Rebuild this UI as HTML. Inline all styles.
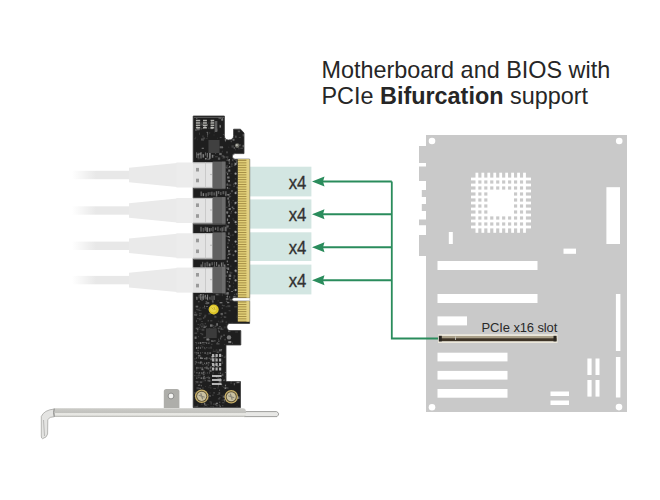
<!DOCTYPE html>
<html><head><meta charset="utf-8"><style>
html,body{margin:0;padding:0;background:#fff;}
body{width:660px;height:500px;overflow:hidden;position:relative;font-family:"Liberation Sans",sans-serif;}
svg{position:absolute;left:0;top:0;}
.t{position:absolute;left:321px;font-size:22px;color:#262626;white-space:nowrap;line-height:26px;}
</style></head><body>
<svg width="660" height="500" viewBox="0 0 660 500" font-family="Liberation Sans">
<defs>
<linearGradient id="barg" x1="0" x2="0" y1="0" y2="1">
<stop offset="0" stop-color="#cbcbc7"/><stop offset="0.5" stop-color="#c2c2be"/><stop offset="0.55" stop-color="#e6e6e2"/><stop offset="0.82" stop-color="#e8e8e4"/><stop offset="0.85" stop-color="#bdbdb9"/><stop offset="1" stop-color="#c4c4c0"/>
</linearGradient>
<linearGradient id="cfade" x1="0" x2="1" y1="0" y2="0">
<stop offset="0" stop-color="#fff"/><stop offset="0.4" stop-color="#e8e8e8"/><stop offset="1" stop-color="#e8e8e8"/>
</linearGradient>
</defs>
<path d="M426,135 L627,135 L627,412 L426,412 L426,256 L419,256 L419,235 L426,235 L426,225.2 L419,225.2 L419,219.6 L426,219.6 L426,211 L421.8,211 L421.8,204 L426,204 L426,197 L421.8,197 L421.8,190 L426,190 L426,181 L419,181 L419,166.4 L426,166.4 L426,163 L419,163 L419,146 L426,146 Z" fill="#c9c9c9"/>
<circle cx="432" cy="141" r="3.3" fill="#fff"/>
<circle cx="619.2" cy="141" r="3.3" fill="#fff"/>
<circle cx="432" cy="407.3" r="3.3" fill="#fff"/>
<circle cx="619" cy="407.1" r="3.3" fill="#fff"/>
<rect x="475.50" y="172.7" width="2.8" height="60.1" fill="#fff"/>
<rect x="481.45" y="172.7" width="2.8" height="60.1" fill="#fff"/>
<rect x="487.40" y="172.7" width="2.8" height="60.1" fill="#fff"/>
<rect x="493.35" y="172.7" width="2.8" height="60.1" fill="#fff"/>
<rect x="499.30" y="172.7" width="2.8" height="60.1" fill="#fff"/>
<rect x="505.25" y="172.7" width="2.8" height="60.1" fill="#fff"/>
<rect x="511.20" y="172.7" width="2.8" height="60.1" fill="#fff"/>
<rect x="517.15" y="172.7" width="2.8" height="60.1" fill="#fff"/>
<rect x="523.10" y="172.7" width="2.8" height="60.1" fill="#fff"/>
<rect x="471" y="177.60" width="60" height="2.8" fill="#fff"/>
<rect x="471" y="183.60" width="60" height="2.8" fill="#fff"/>
<rect x="471" y="189.60" width="60" height="2.8" fill="#fff"/>
<rect x="471" y="195.60" width="60" height="2.8" fill="#fff"/>
<rect x="471" y="201.60" width="60" height="2.8" fill="#fff"/>
<rect x="471" y="207.60" width="60" height="2.8" fill="#fff"/>
<rect x="471" y="213.60" width="60" height="2.8" fill="#fff"/>
<rect x="471" y="219.60" width="60" height="2.8" fill="#fff"/>
<rect x="471" y="225.60" width="60" height="2.8" fill="#fff"/>
<rect x="488" y="190.5" width="26" height="25" fill="#fff"/>
<rect x="448.8" y="232" width="4" height="12" fill="#fff"/>
<rect x="606.4" y="187.2" width="13.6" height="56.8" fill="#fff"/>
<rect x="563.5" y="248.6" width="12.5" height="5.2" fill="#fff"/>
<rect x="437.5" y="261" width="100" height="9" fill="#fff"/>
<rect x="437.5" y="294" width="100" height="9" fill="#fff"/>
<rect x="437.5" y="316.4" width="29.5" height="9" fill="#fff"/>
<rect x="437.5" y="352.7" width="70" height="8.7" fill="#fff"/>
<rect x="437.5" y="370.9" width="70" height="8.7" fill="#fff"/>
<rect x="437.5" y="389" width="70" height="8.7" fill="#fff"/>
<rect x="615.9" y="294" width="4.5" height="57" fill="#fff"/>
<rect x="615.9" y="357" width="4.5" height="40.5" fill="#fff"/>
<rect x="587.4" y="358.5" width="4.2" height="16.5" fill="#fff"/>
<rect x="595.5" y="358.5" width="4" height="16.5" fill="#fff"/>
<rect x="587.4" y="380" width="4.2" height="16.6" fill="#fff"/>
<rect x="595.5" y="380" width="4" height="16.6" fill="#fff"/>
<rect x="550.5" y="391.5" width="18.5" height="4.5" fill="#fff"/>
<rect x="550.5" y="400.5" width="18.5" height="4.5" fill="#fff"/>
<rect x="438" y="334.2" width="119.5" height="8.8" fill="#ece8dc"/>
<rect x="439" y="336" width="117.5" height="2.3" fill="#a99f88"/>
<rect x="439" y="338.2" width="117.5" height="3" fill="#3e3426"/>
<rect x="438.8" y="335.8" width="3" height="5.6" fill="#2a2620"/>
<rect x="553.5" y="335.8" width="3" height="5.6" fill="#2a2620"/>
<rect x="455.2" y="336.5" width="0.8" height="3.5" fill="#d0d0c8"/>
<text x="481.5" y="332" font-size="13" fill="#2a2a2a" font-family="Liberation Sans" textLength="75.8">PCIe x16 slot</text>
<path d="M391.8,181.5 V338.5 H438" fill="none" stroke="#2a8c5c" stroke-width="1.8"/>
<path d="M323,181.6 H391.8" stroke="#2a8c5c" stroke-width="2" fill="none"/>
<path d="M312,181.6 L324.5,176.6 L323,181.6 L324.5,186.6 Z" fill="#2a8c5c"/>
<path d="M323,214.2 H391.8" stroke="#2a8c5c" stroke-width="2" fill="none"/>
<path d="M312,214.2 L324.5,209.2 L323,214.2 L324.5,219.2 Z" fill="#2a8c5c"/>
<path d="M323,247.2 H391.8" stroke="#2a8c5c" stroke-width="2" fill="none"/>
<path d="M312,247.2 L324.5,242.2 L323,247.2 L324.5,252.2 Z" fill="#2a8c5c"/>
<path d="M323,280.3 H391.8" stroke="#2a8c5c" stroke-width="2" fill="none"/>
<path d="M312,280.3 L324.5,275.3 L323,280.3 L324.5,285.3 Z" fill="#2a8c5c"/>
<rect x="250" y="166.7" width="61.4" height="29.7" fill="#d3e6e2"/>
<text x="0" y="0" transform="translate(306.4,188.9) scale(0.93,1)" font-size="18" stroke="#2a2a2a" stroke-width="0.3" text-anchor="end" fill="#333" font-family="Liberation Sans">x4</text>
<rect x="250" y="199.4" width="61.4" height="29.2" fill="#d3e6e2"/>
<text x="0" y="0" transform="translate(306.4,221.3) scale(0.93,1)" font-size="18" stroke="#2a2a2a" stroke-width="0.3" text-anchor="end" fill="#333" font-family="Liberation Sans">x4</text>
<rect x="250" y="232.3" width="61.4" height="28.7" fill="#d3e6e2"/>
<text x="0" y="0" transform="translate(306.4,254.0) scale(0.93,1)" font-size="18" stroke="#2a2a2a" stroke-width="0.3" text-anchor="end" fill="#333" font-family="Liberation Sans">x4</text>
<rect x="250" y="264.6" width="61.4" height="29.8" fill="#d3e6e2"/>
<text x="0" y="0" transform="translate(306.4,286.8) scale(0.93,1)" font-size="18" stroke="#2a2a2a" stroke-width="0.3" text-anchor="end" fill="#333" font-family="Liberation Sans">x4</text>
<path d="M244,411.6 H276.5 Q280.5,413.5 277,416.6 H244 Z" fill="#e8e8e6" stroke="#959593" stroke-width="0.9"/>
<path d="M54.8,408.2 H243 Q246,408.5 246,412 V414 Q246,417 243,417 H54.8 Z" fill="url(#barg)"/>
<path d="M41.3,416.5 Q44,410 54.3,409 V416.7 Q49.5,416.7 47.8,419.5 L47.6,434 Q47,437.5 42.5,438.7 Q41.3,438.5 41.3,436 Z" fill="#e4e4e2" stroke="#9c9c9a" stroke-width="0.7"/>
<path d="M43.5,420 L44.5,436" stroke="#b8b8b6" stroke-width="1"/>
<path d="M54.3,408.4 Q52.8,412.5 54.3,416.8" stroke="#8e8e8c" stroke-width="1" fill="none"/>
<path d="M163.8,408 V391.5 Q163.8,389 166.3,389 H176.9 Q179.4,389 179.4,391.5 V408 Z" fill="#aeaeaa"/>
<circle cx="171" cy="396" r="2.9" fill="#f4f4f2" stroke="#7a7a78" stroke-width="0.8"/>
<defs><clipPath id="pcbclip"><path d="M193.2,116 H224.4 V135.5 Q224.4,140 228.5,140 Q233.6,140 233.6,135.5 V129.2 H240.5 L244,133 V153.6 H235.2 Q232.4,153.6 232.4,156.4 Q232.4,159.2 235.2,159.2 H249.6 V297.6 H234.2 Q232,297.6 232,299.4 Q232,301.2 234.2,301.2 H249.6 V323.4 H228.8 Q224.8,327 228.8,330.6 H240.8 V345 H226 V381.6 H240.5 V407.6 H193.2 Z"/></clipPath></defs>
<path d="M193.2,116 H224.4 V135.5 Q224.4,140 228.5,140 Q233.6,140 233.6,135.5 V129.2 H240.5 L244,133 V153.6 H235.2 Q232.4,153.6 232.4,156.4 Q232.4,159.2 235.2,159.2 H249.6 V297.6 H234.2 Q232,297.6 232,299.4 Q232,301.2 234.2,301.2 H249.6 V323.4 H228.8 Q224.8,327 228.8,330.6 H240.8 V345 H226 V381.6 H240.5 V407.6 H193.2 Z" fill="#1e1e1e" stroke="#3a3a3a" stroke-width="0.8"/>
<defs><filter id="soft" x="-5%" y="-5%" width="110%" height="110%"><feGaussianBlur stdDeviation="0.45"/></filter></defs>
<g clip-path="url(#pcbclip)"><g filter="url(#soft)"><rect x="210.2" y="123.5" width="2.2" height="0.7" fill="rgb(113,113,113)" opacity="0.55"/><rect x="196.9" y="138.8" width="0.7" height="1.4" fill="rgb(66,66,66)" opacity="0.40"/><rect x="215.2" y="152.6" width="0.9" height="1.0" fill="rgb(122,122,122)" opacity="0.87"/><rect x="222.9" y="134.1" width="2.9" height="0.7" fill="rgb(145,145,145)" opacity="0.51"/><rect x="201.2" y="122.1" width="1.3" height="2.2" fill="rgb(78,78,78)" opacity="0.67"/><rect x="225.9" y="133.0" width="1.9" height="0.7" fill="rgb(65,65,65)" opacity="0.46"/><rect x="228.0" y="135.4" width="1.4" height="1.7" fill="rgb(105,105,105)" opacity="0.51"/><rect x="233.7" y="147.1" width="1.2" height="1.7" fill="rgb(112,112,112)" opacity="0.83"/><rect x="230.5" y="129.4" width="3.0" height="0.8" fill="rgb(101,101,101)" opacity="0.77"/><rect x="201.6" y="138.0" width="0.7" height="1.9" fill="rgb(136,136,136)" opacity="0.67"/><rect x="237.8" y="130.5" width="2.3" height="1.7" fill="rgb(117,117,117)" opacity="0.60"/><rect x="236.0" y="157.6" width="1.7" height="1.9" fill="rgb(66,66,66)" opacity="0.74"/><rect x="226.4" y="159.7" width="2.6" height="1.1" fill="rgb(98,98,98)" opacity="0.72"/><rect x="195.1" y="136.9" width="1.0" height="0.8" fill="rgb(65,65,65)" opacity="0.77"/><rect x="200.5" y="127.6" width="1.5" height="2.3" fill="rgb(68,68,68)" opacity="0.60"/><rect x="221.5" y="155.0" width="2.6" height="2.2" fill="rgb(87,87,87)" opacity="0.58"/><rect x="211.9" y="155.0" width="2.9" height="0.9" fill="rgb(77,77,77)" opacity="0.48"/><rect x="205.7" y="137.9" width="2.0" height="1.1" fill="rgb(60,60,60)" opacity="0.58"/><rect x="212.5" y="141.4" width="2.9" height="1.9" fill="rgb(111,111,111)" opacity="0.69"/><rect x="227.8" y="119.3" width="2.8" height="2.1" fill="rgb(147,147,147)" opacity="0.79"/><rect x="213.6" y="134.2" width="0.8" height="1.8" fill="rgb(66,66,66)" opacity="0.39"/><rect x="204.4" y="124.0" width="1.4" height="0.7" fill="rgb(60,60,60)" opacity="0.43"/><rect x="199.1" y="132.6" width="0.7" height="2.3" fill="rgb(121,121,121)" opacity="0.43"/><rect x="206.6" y="131.9" width="1.5" height="0.8" fill="rgb(144,144,144)" opacity="0.90"/><rect x="217.3" y="137.8" width="0.8" height="0.8" fill="rgb(94,94,94)" opacity="0.50"/><rect x="235.4" y="123.9" width="0.7" height="2.4" fill="rgb(112,112,112)" opacity="0.43"/><rect x="221.2" y="118.2" width="1.9" height="2.5" fill="rgb(146,146,146)" opacity="0.73"/><rect x="207.1" y="132.8" width="1.0" height="2.1" fill="rgb(113,113,113)" opacity="0.78"/><rect x="210.5" y="126.6" width="2.5" height="2.5" fill="rgb(145,145,145)" opacity="0.79"/><rect x="234.9" y="148.8" width="1.1" height="1.6" fill="rgb(95,95,95)" opacity="0.37"/><rect x="195.4" y="129.0" width="1.2" height="1.9" fill="rgb(155,155,155)" opacity="0.60"/><rect x="240.9" y="159.5" width="2.9" height="1.3" fill="rgb(82,82,82)" opacity="0.47"/><rect x="203.8" y="125.8" width="2.1" height="2.3" fill="rgb(144,144,144)" opacity="0.61"/><rect x="226.6" y="151.4" width="0.8" height="1.9" fill="rgb(150,150,150)" opacity="0.78"/><rect x="231.5" y="137.6" width="1.0" height="2.1" fill="rgb(93,93,93)" opacity="0.79"/><rect x="242.6" y="134.0" width="1.6" height="2.4" fill="rgb(132,132,132)" opacity="0.44"/><rect x="200.4" y="123.5" width="2.8" height="2.1" fill="rgb(74,74,74)" opacity="0.80"/><rect x="243.0" y="145.3" width="1.4" height="1.6" fill="rgb(73,73,73)" opacity="0.36"/><rect x="242.5" y="144.9" width="1.9" height="2.4" fill="rgb(103,103,103)" opacity="0.83"/><rect x="235.3" y="126.1" width="1.2" height="1.2" fill="rgb(84,84,84)" opacity="0.67"/><rect x="207.0" y="135.0" width="0.9" height="2.3" fill="rgb(95,95,95)" opacity="0.60"/><rect x="223.2" y="155.9" width="1.6" height="2.3" fill="rgb(110,110,110)" opacity="0.64"/><rect x="220.2" y="117.8" width="1.7" height="0.9" fill="rgb(60,60,60)" opacity="0.79"/><rect x="202.6" y="137.4" width="2.3" height="1.7" fill="rgb(92,92,92)" opacity="0.64"/><rect x="221.8" y="150.7" width="0.9" height="1.7" fill="rgb(84,84,84)" opacity="0.50"/><rect x="232.6" y="138.8" width="1.9" height="2.0" fill="rgb(151,151,151)" opacity="0.59"/><rect x="224.6" y="138.7" width="1.8" height="1.9" fill="rgb(105,105,105)" opacity="0.64"/><rect x="217.9" y="157.5" width="2.3" height="2.3" fill="rgb(154,154,154)" opacity="0.49"/><rect x="222.0" y="157.6" width="2.6" height="0.9" fill="rgb(72,72,72)" opacity="0.59"/><rect x="197.6" y="127.3" width="0.8" height="1.9" fill="rgb(138,138,138)" opacity="0.84"/><rect x="201.7" y="147.8" width="2.2" height="0.9" fill="rgb(148,148,148)" opacity="0.88"/><rect x="205.0" y="158.0" width="1.6" height="1.5" fill="rgb(158,158,158)" opacity="0.81"/><rect x="202.1" y="135.6" width="1.8" height="1.2" fill="rgb(79,79,79)" opacity="0.53"/><rect x="230.1" y="117.8" width="1.9" height="1.4" fill="rgb(61,61,61)" opacity="0.53"/><rect x="225.2" y="139.0" width="0.8" height="2.5" fill="rgb(138,138,138)" opacity="0.88"/><rect x="199.2" y="128.4" width="0.7" height="2.1" fill="rgb(87,87,87)" opacity="0.42"/><rect x="215.1" y="156.2" width="2.6" height="1.1" fill="rgb(74,74,74)" opacity="0.86"/><rect x="222.5" y="147.1" width="0.8" height="0.7" fill="rgb(128,128,128)" opacity="0.58"/><rect x="197.6" y="157.3" width="2.1" height="2.1" fill="rgb(68,68,68)" opacity="0.82"/><rect x="197.3" y="154.1" width="1.7" height="1.2" fill="rgb(115,115,115)" opacity="0.86"/><rect x="207.4" y="122.6" width="1.9" height="1.1" fill="rgb(70,70,70)" opacity="0.44"/><rect x="196.5" y="125.7" width="1.3" height="1.2" fill="rgb(135,135,135)" opacity="0.51"/><rect x="219.0" y="124.6" width="1.4" height="0.6" fill="rgb(85,85,85)" opacity="0.36"/><rect x="230.7" y="140.7" width="1.1" height="1.5" fill="rgb(153,153,153)" opacity="0.41"/><rect x="234.9" y="135.6" width="1.8" height="2.2" fill="rgb(99,99,99)" opacity="0.63"/><rect x="228.4" y="159.2" width="1.4" height="2.2" fill="rgb(130,130,130)" opacity="0.70"/><rect x="214.2" y="131.9" width="0.7" height="0.8" fill="rgb(67,67,67)" opacity="0.76"/><rect x="206.8" y="124.0" width="0.8" height="2.2" fill="rgb(147,147,147)" opacity="0.72"/><rect x="208.1" y="127.4" width="1.3" height="1.5" fill="rgb(75,75,75)" opacity="0.60"/><rect x="207.2" y="158.4" width="2.9" height="1.6" fill="rgb(84,84,84)" opacity="0.88"/><rect x="209.5" y="132.3" width="0.6" height="1.3" fill="rgb(107,107,107)" opacity="0.63"/><rect x="204.0" y="138.7" width="0.6" height="1.1" fill="rgb(68,68,68)" opacity="0.57"/><rect x="196.1" y="118.0" width="1.3" height="1.0" fill="rgb(118,118,118)" opacity="0.64"/><rect x="231.5" y="145.3" width="2.3" height="2.3" fill="rgb(98,98,98)" opacity="0.53"/><rect x="243.2" y="123.4" width="2.3" height="1.8" fill="rgb(64,64,64)" opacity="0.81"/><rect x="238.6" y="144.0" width="2.4" height="2.1" fill="rgb(73,73,73)" opacity="0.64"/><rect x="219.2" y="152.9" width="2.5" height="2.2" fill="rgb(118,118,118)" opacity="0.84"/><rect x="228.1" y="146.8" width="1.2" height="0.7" fill="rgb(73,73,73)" opacity="0.55"/><rect x="199.2" y="152.9" width="1.9" height="1.8" fill="rgb(122,122,122)" opacity="0.72"/><rect x="218.5" y="117.1" width="2.5" height="2.0" fill="rgb(110,110,110)" opacity="0.64"/><rect x="227.0" y="119.8" width="2.4" height="1.1" fill="rgb(67,67,67)" opacity="0.50"/><rect x="230.5" y="125.8" width="2.4" height="2.5" fill="rgb(109,109,109)" opacity="0.56"/><rect x="218.0" y="146.4" width="2.4" height="1.8" fill="rgb(124,124,124)" opacity="0.39"/><rect x="201.4" y="127.9" width="2.4" height="1.2" fill="rgb(116,116,116)" opacity="0.36"/><rect x="197.0" y="128.6" width="2.2" height="1.9" fill="rgb(127,127,127)" opacity="0.51"/><rect x="219.8" y="137.0" width="1.7" height="0.8" fill="rgb(149,149,149)" opacity="0.46"/><rect x="242.9" y="157.3" width="0.6" height="1.5" fill="rgb(141,141,141)" opacity="0.88"/><rect x="216.5" y="128.6" width="1.1" height="2.4" fill="rgb(81,81,81)" opacity="0.67"/><rect x="201.1" y="139.5" width="2.9" height="0.9" fill="rgb(142,142,142)" opacity="0.63"/><rect x="238.3" y="147.2" width="1.2" height="2.3" fill="rgb(108,108,108)" opacity="0.36"/><rect x="194.2" y="138.1" width="1.7" height="1.2" fill="rgb(74,74,74)" opacity="0.54"/><rect x="209.8" y="153.1" width="0.6" height="2.0" fill="rgb(143,143,143)" opacity="0.42"/><rect x="240.3" y="147.7" width="2.8" height="1.2" fill="rgb(97,97,97)" opacity="0.57"/><rect x="243.9" y="142.3" width="1.5" height="1.4" fill="rgb(87,87,87)" opacity="0.38"/><rect x="199.1" y="152.9" width="1.3" height="2.4" fill="rgb(84,84,84)" opacity="0.50"/><rect x="219.5" y="125.2" width="1.5" height="2.4" fill="rgb(148,148,148)" opacity="0.80"/><rect x="225.5" y="156.3" width="2.9" height="1.6" fill="rgb(131,131,131)" opacity="0.38"/><rect x="230.6" y="136.4" width="2.4" height="1.8" fill="rgb(88,88,88)" opacity="0.38"/><rect x="240.3" y="122.5" width="1.7" height="1.3" fill="rgb(89,89,89)" opacity="0.76"/><rect x="242.8" y="128.2" width="2.2" height="1.2" fill="rgb(115,115,115)" opacity="0.57"/><rect x="202.4" y="124.0" width="1.1" height="2.3" fill="rgb(109,109,109)" opacity="0.47"/><rect x="239.3" y="159.8" width="1.7" height="0.9" fill="rgb(79,79,79)" opacity="0.40"/><rect x="211.1" y="120.9" width="1.2" height="1.1" fill="rgb(116,116,116)" opacity="0.84"/><rect x="231.5" y="134.7" width="1.6" height="1.6" fill="rgb(97,97,97)" opacity="0.54"/><rect x="197.1" y="128.9" width="2.9" height="0.8" fill="rgb(110,110,110)" opacity="0.70"/><rect x="237.1" y="126.3" width="1.3" height="1.1" fill="rgb(99,99,99)" opacity="0.60"/><rect x="241.7" y="153.5" width="2.7" height="0.6" fill="rgb(63,63,63)" opacity="0.74"/><rect x="238.8" y="137.4" width="2.0" height="0.6" fill="rgb(99,99,99)" opacity="0.86"/><rect x="235.3" y="153.8" width="2.9" height="1.1" fill="rgb(70,70,70)" opacity="0.43"/><rect x="220.1" y="146.3" width="2.9" height="2.0" fill="rgb(124,124,124)" opacity="0.77"/><rect x="230.5" y="234.7" width="0.7" height="1.5" fill="rgb(80,80,80)" opacity="0.86"/><rect x="232.7" y="200.2" width="0.8" height="0.9" fill="rgb(117,117,117)" opacity="0.73"/><rect x="226.3" y="167.8" width="1.4" height="1.3" fill="rgb(94,94,94)" opacity="0.47"/><rect x="232.2" y="159.5" width="1.1" height="1.2" fill="rgb(146,146,146)" opacity="0.70"/><rect x="235.6" y="224.1" width="1.0" height="0.9" fill="rgb(146,146,146)" opacity="0.74"/><rect x="228.7" y="161.0" width="1.4" height="1.4" fill="rgb(97,97,97)" opacity="0.49"/><rect x="233.0" y="286.6" width="1.0" height="0.6" fill="rgb(90,90,90)" opacity="0.58"/><rect x="233.2" y="185.5" width="1.9" height="1.5" fill="rgb(105,105,105)" opacity="0.46"/><rect x="236.6" y="201.3" width="1.9" height="0.9" fill="rgb(79,79,79)" opacity="0.77"/><rect x="228.5" y="290.3" width="1.4" height="0.8" fill="rgb(80,80,80)" opacity="0.58"/><rect x="233.0" y="289.9" width="0.8" height="1.1" fill="rgb(79,79,79)" opacity="0.89"/><rect x="226.7" y="165.2" width="0.7" height="1.1" fill="rgb(140,140,140)" opacity="0.84"/><rect x="233.8" y="296.7" width="2.1" height="1.0" fill="rgb(76,76,76)" opacity="0.86"/><rect x="234.0" y="162.4" width="1.7" height="1.1" fill="rgb(93,93,93)" opacity="0.53"/><rect x="227.0" y="158.4" width="1.0" height="1.0" fill="rgb(145,145,145)" opacity="0.42"/><rect x="236.6" y="186.8" width="1.2" height="1.6" fill="rgb(133,133,133)" opacity="0.59"/><rect x="225.6" y="223.8" width="1.2" height="1.7" fill="rgb(77,77,77)" opacity="0.55"/><rect x="235.8" y="162.2" width="1.3" height="1.6" fill="rgb(129,129,129)" opacity="0.37"/><rect x="225.4" y="166.7" width="2.1" height="0.9" fill="rgb(127,127,127)" opacity="0.84"/><rect x="229.1" y="195.9" width="2.1" height="1.3" fill="rgb(83,83,83)" opacity="0.74"/><rect x="228.8" y="196.3" width="0.6" height="1.5" fill="rgb(142,142,142)" opacity="0.70"/><rect x="236.3" y="161.4" width="1.0" height="1.2" fill="rgb(146,146,146)" opacity="0.87"/><rect x="229.6" y="192.9" width="1.3" height="1.2" fill="rgb(143,143,143)" opacity="0.45"/><rect x="234.6" y="260.6" width="1.9" height="1.5" fill="rgb(114,114,114)" opacity="0.53"/><rect x="228.8" y="208.3" width="1.9" height="0.7" fill="rgb(77,77,77)" opacity="0.76"/><rect x="228.0" y="167.0" width="0.7" height="1.3" fill="rgb(89,89,89)" opacity="0.89"/><rect x="235.6" y="295.3" width="1.0" height="0.7" fill="rgb(68,68,68)" opacity="0.62"/><rect x="233.5" y="220.1" width="1.0" height="1.1" fill="rgb(115,115,115)" opacity="0.72"/><rect x="234.0" y="275.7" width="1.7" height="0.7" fill="rgb(135,135,135)" opacity="0.51"/><rect x="231.8" y="209.8" width="1.8" height="0.8" fill="rgb(82,82,82)" opacity="0.48"/><rect x="226.8" y="280.9" width="1.5" height="1.0" fill="rgb(95,95,95)" opacity="0.90"/><rect x="231.1" y="190.2" width="1.9" height="1.4" fill="rgb(149,149,149)" opacity="0.41"/><rect x="230.7" y="271.9" width="1.9" height="1.7" fill="rgb(63,63,63)" opacity="0.51"/><rect x="226.4" y="184.4" width="2.2" height="1.3" fill="rgb(143,143,143)" opacity="0.55"/><rect x="235.4" y="220.4" width="1.0" height="1.5" fill="rgb(145,145,145)" opacity="0.41"/><rect x="232.2" y="244.2" width="0.9" height="1.0" fill="rgb(72,72,72)" opacity="0.46"/><rect x="228.1" y="241.3" width="1.6" height="0.8" fill="rgb(61,61,61)" opacity="0.53"/><rect x="233.1" y="183.7" width="1.1" height="0.8" fill="rgb(131,131,131)" opacity="0.65"/><rect x="225.8" y="172.1" width="1.2" height="1.3" fill="rgb(117,117,117)" opacity="0.40"/><rect x="227.0" y="254.7" width="1.3" height="0.9" fill="rgb(87,87,87)" opacity="0.87"/><rect x="228.7" y="236.7" width="1.2" height="1.1" fill="rgb(137,137,137)" opacity="0.90"/><rect x="229.4" y="185.4" width="1.8" height="0.8" fill="rgb(60,60,60)" opacity="0.85"/><rect x="230.1" y="272.0" width="1.2" height="1.7" fill="rgb(101,101,101)" opacity="0.44"/><rect x="225.2" y="234.7" width="1.6" height="1.7" fill="rgb(68,68,68)" opacity="0.69"/><rect x="229.5" y="228.1" width="0.8" height="0.9" fill="rgb(106,106,106)" opacity="0.86"/><rect x="226.3" y="226.2" width="1.9" height="1.8" fill="rgb(77,77,77)" opacity="0.42"/><rect x="236.3" y="293.6" width="1.4" height="0.7" fill="rgb(143,143,143)" opacity="0.56"/><rect x="235.9" y="244.2" width="1.9" height="0.8" fill="rgb(130,130,130)" opacity="0.47"/><rect x="229.9" y="275.6" width="1.9" height="0.8" fill="rgb(79,79,79)" opacity="0.57"/><rect x="231.2" y="211.3" width="0.8" height="0.9" fill="rgb(125,125,125)" opacity="0.84"/><rect x="225.5" y="236.2" width="1.8" height="0.6" fill="rgb(135,135,135)" opacity="0.41"/><rect x="232.2" y="234.5" width="1.6" height="1.0" fill="rgb(97,97,97)" opacity="0.67"/><rect x="230.1" y="249.6" width="1.3" height="1.1" fill="rgb(62,62,62)" opacity="0.69"/><rect x="230.9" y="190.7" width="1.8" height="1.5" fill="rgb(101,101,101)" opacity="0.45"/><rect x="230.7" y="172.9" width="0.8" height="1.1" fill="rgb(68,68,68)" opacity="0.59"/><rect x="231.1" y="163.7" width="1.6" height="0.7" fill="rgb(126,126,126)" opacity="0.78"/><rect x="231.1" y="165.5" width="1.4" height="1.1" fill="rgb(145,145,145)" opacity="0.42"/><rect x="235.3" y="296.5" width="1.8" height="1.6" fill="rgb(77,77,77)" opacity="0.89"/><rect x="230.9" y="291.0" width="2.1" height="0.8" fill="rgb(130,130,130)" opacity="0.86"/><rect x="225.8" y="206.8" width="1.8" height="0.8" fill="rgb(140,140,140)" opacity="0.50"/><rect x="234.8" y="178.0" width="1.4" height="1.7" fill="rgb(78,78,78)" opacity="0.49"/><rect x="231.1" y="202.4" width="0.7" height="0.8" fill="rgb(74,74,74)" opacity="0.87"/><rect x="233.2" y="282.5" width="0.9" height="1.5" fill="rgb(70,70,70)" opacity="0.64"/><rect x="232.6" y="208.0" width="2.0" height="1.3" fill="rgb(112,112,112)" opacity="0.84"/><rect x="226.3" y="296.0" width="1.6" height="1.1" fill="rgb(131,131,131)" opacity="0.50"/><rect x="236.9" y="238.3" width="1.2" height="1.5" fill="rgb(99,99,99)" opacity="0.45"/><rect x="233.9" y="164.7" width="1.9" height="0.9" fill="rgb(117,117,117)" opacity="0.89"/><rect x="232.0" y="250.3" width="1.1" height="0.6" fill="rgb(63,63,63)" opacity="0.43"/><rect x="232.4" y="218.1" width="1.4" height="1.7" fill="rgb(71,71,71)" opacity="0.47"/><rect x="232.8" y="161.1" width="0.6" height="1.0" fill="rgb(69,69,69)" opacity="0.55"/><rect x="227.7" y="239.1" width="1.5" height="0.8" fill="rgb(116,116,116)" opacity="0.61"/><rect x="226.6" y="288.2" width="1.0" height="0.8" fill="rgb(68,68,68)" opacity="0.70"/><rect x="235.5" y="266.7" width="1.2" height="0.9" fill="rgb(61,61,61)" opacity="0.70"/><rect x="231.7" y="206.7" width="1.6" height="1.1" fill="rgb(144,144,144)" opacity="0.75"/><rect x="228.0" y="283.6" width="0.7" height="1.2" fill="rgb(96,96,96)" opacity="0.48"/><rect x="225.7" y="266.3" width="0.6" height="1.3" fill="rgb(144,144,144)" opacity="0.43"/><rect x="227.4" y="242.5" width="1.4" height="1.4" fill="rgb(133,133,133)" opacity="0.45"/><rect x="228.7" y="199.7" width="0.7" height="1.7" fill="rgb(130,130,130)" opacity="0.74"/><rect x="225.1" y="275.4" width="1.8" height="1.2" fill="rgb(126,126,126)" opacity="0.60"/><rect x="227.7" y="172.6" width="1.0" height="0.6" fill="rgb(90,90,90)" opacity="0.76"/><rect x="233.3" y="275.5" width="1.7" height="0.9" fill="rgb(109,109,109)" opacity="0.59"/><rect x="234.5" y="230.7" width="1.0" height="1.4" fill="rgb(146,146,146)" opacity="0.47"/><rect x="235.6" y="160.1" width="1.0" height="0.9" fill="rgb(126,126,126)" opacity="0.87"/><rect x="234.0" y="203.4" width="2.0" height="1.0" fill="rgb(81,81,81)" opacity="0.85"/><rect x="232.6" y="254.3" width="1.7" height="1.8" fill="rgb(102,102,102)" opacity="0.81"/><rect x="233.4" y="277.2" width="1.3" height="1.5" fill="rgb(111,111,111)" opacity="0.52"/><rect x="227.5" y="244.5" width="0.7" height="1.7" fill="rgb(73,73,73)" opacity="0.36"/><rect x="226.3" y="287.1" width="1.2" height="0.8" fill="rgb(62,62,62)" opacity="0.37"/><rect x="233.3" y="246.1" width="1.7" height="1.5" fill="rgb(65,65,65)" opacity="0.67"/><rect x="229.4" y="271.6" width="1.9" height="1.7" fill="rgb(65,65,65)" opacity="0.83"/><rect x="236.0" y="289.3" width="0.8" height="0.8" fill="rgb(70,70,70)" opacity="0.37"/><rect x="235.2" y="270.9" width="1.6" height="1.6" fill="rgb(116,116,116)" opacity="0.51"/><rect x="226.2" y="171.6" width="1.8" height="0.8" fill="rgb(88,88,88)" opacity="0.58"/><rect x="225.3" y="193.7" width="1.1" height="1.5" fill="rgb(93,93,93)" opacity="0.53"/><rect x="236.6" y="228.0" width="2.0" height="1.3" fill="rgb(62,62,62)" opacity="0.58"/><rect x="230.2" y="265.5" width="1.2" height="1.4" fill="rgb(108,108,108)" opacity="0.47"/><rect x="235.3" y="170.6" width="1.9" height="0.8" fill="rgb(60,60,60)" opacity="0.46"/><rect x="234.1" y="293.9" width="0.6" height="1.2" fill="rgb(104,104,104)" opacity="0.79"/><rect x="227.2" y="226.7" width="1.2" height="1.6" fill="rgb(83,83,83)" opacity="0.87"/><rect x="228.4" y="187.8" width="1.7" height="1.2" fill="rgb(69,69,69)" opacity="0.70"/><rect x="226.0" y="267.5" width="1.7" height="1.5" fill="rgb(116,116,116)" opacity="0.55"/><rect x="229.8" y="212.8" width="2.0" height="0.7" fill="rgb(139,139,139)" opacity="0.36"/><rect x="227.5" y="194.6" width="2.0" height="1.2" fill="rgb(94,94,94)" opacity="0.84"/><rect x="227.8" y="222.1" width="1.5" height="1.5" fill="rgb(127,127,127)" opacity="0.71"/><rect x="229.2" y="203.4" width="0.8" height="1.6" fill="rgb(119,119,119)" opacity="0.76"/><rect x="227.0" y="219.0" width="1.8" height="1.3" fill="rgb(71,71,71)" opacity="0.60"/><rect x="235.6" y="191.1" width="0.9" height="1.0" fill="rgb(123,123,123)" opacity="0.81"/><rect x="226.9" y="179.7" width="1.0" height="1.0" fill="rgb(106,106,106)" opacity="0.44"/><rect x="228.9" y="184.3" width="2.2" height="1.5" fill="rgb(69,69,69)" opacity="0.88"/><rect x="226.2" y="211.4" width="2.2" height="1.6" fill="rgb(125,125,125)" opacity="0.59"/><rect x="202.6" y="365.4" width="0.9" height="1.0" fill="rgb(98,98,98)" opacity="0.37"/><rect x="211.6" y="383.0" width="2.3" height="1.6" fill="rgb(123,123,123)" opacity="0.60"/><rect x="200.2" y="361.4" width="1.6" height="2.0" fill="rgb(150,150,150)" opacity="0.59"/><rect x="219.3" y="378.1" width="1.6" height="1.0" fill="rgb(132,132,132)" opacity="0.83"/><rect x="228.1" y="372.5" width="2.6" height="1.9" fill="rgb(124,124,124)" opacity="0.60"/><rect x="207.8" y="364.3" width="0.8" height="1.4" fill="rgb(138,138,138)" opacity="0.74"/><rect x="221.7" y="320.8" width="1.6" height="1.5" fill="rgb(122,122,122)" opacity="0.58"/><rect x="223.7" y="399.0" width="1.0" height="1.8" fill="rgb(137,137,137)" opacity="0.56"/><rect x="215.6" y="404.1" width="0.7" height="1.6" fill="rgb(76,76,76)" opacity="0.78"/><rect x="235.4" y="351.7" width="0.8" height="1.7" fill="rgb(114,114,114)" opacity="0.74"/><rect x="216.5" y="365.5" width="2.6" height="1.6" fill="rgb(101,101,101)" opacity="0.87"/><rect x="203.2" y="370.7" width="1.5" height="2.0" fill="rgb(72,72,72)" opacity="0.89"/><rect x="209.6" y="298.5" width="1.3" height="1.4" fill="rgb(61,61,61)" opacity="0.58"/><rect x="212.5" y="372.3" width="1.4" height="1.1" fill="rgb(82,82,82)" opacity="0.76"/><rect x="235.4" y="352.6" width="1.1" height="2.1" fill="rgb(99,99,99)" opacity="0.47"/><rect x="199.7" y="381.3" width="2.5" height="1.8" fill="rgb(106,106,106)" opacity="0.66"/><rect x="203.9" y="402.8" width="1.4" height="1.8" fill="rgb(141,141,141)" opacity="0.80"/><rect x="214.6" y="325.8" width="1.9" height="0.8" fill="rgb(143,143,143)" opacity="0.55"/><rect x="231.4" y="322.8" width="1.5" height="1.1" fill="rgb(102,102,102)" opacity="0.45"/><rect x="194.1" y="375.0" width="1.3" height="1.1" fill="rgb(90,90,90)" opacity="0.61"/><rect x="212.9" y="365.3" width="2.2" height="1.3" fill="rgb(152,152,152)" opacity="0.82"/><rect x="196.5" y="387.2" width="2.8" height="2.1" fill="rgb(74,74,74)" opacity="0.81"/><rect x="221.9" y="293.7" width="0.6" height="2.4" fill="rgb(125,125,125)" opacity="0.49"/><rect x="198.5" y="308.4" width="1.2" height="2.1" fill="rgb(94,94,94)" opacity="0.43"/><rect x="233.8" y="383.0" width="1.0" height="2.3" fill="rgb(120,120,120)" opacity="0.78"/><rect x="223.4" y="394.8" width="2.5" height="2.2" fill="rgb(79,79,79)" opacity="0.73"/><rect x="217.4" y="377.3" width="1.7" height="2.3" fill="rgb(115,115,115)" opacity="0.50"/><rect x="204.3" y="308.0" width="1.8" height="0.7" fill="rgb(106,106,106)" opacity="0.43"/><rect x="215.6" y="349.3" width="1.9" height="2.2" fill="rgb(60,60,60)" opacity="0.81"/><rect x="214.6" y="356.7" width="2.2" height="2.2" fill="rgb(97,97,97)" opacity="0.58"/><rect x="236.3" y="300.7" width="2.1" height="1.8" fill="rgb(62,62,62)" opacity="0.69"/><rect x="224.0" y="399.1" width="1.4" height="2.5" fill="rgb(111,111,111)" opacity="0.62"/><rect x="233.5" y="295.9" width="2.3" height="1.8" fill="rgb(93,93,93)" opacity="0.82"/><rect x="210.1" y="346.6" width="1.9" height="2.1" fill="rgb(81,81,81)" opacity="0.59"/><rect x="212.6" y="355.7" width="2.6" height="1.2" fill="rgb(142,142,142)" opacity="0.57"/><rect x="216.2" y="323.2" width="1.8" height="2.5" fill="rgb(125,125,125)" opacity="0.79"/><rect x="208.6" y="328.5" width="1.3" height="1.7" fill="rgb(123,123,123)" opacity="0.78"/><rect x="195.8" y="375.1" width="2.7" height="1.6" fill="rgb(64,64,64)" opacity="0.52"/><rect x="194.3" y="313.8" width="2.8" height="1.8" fill="rgb(125,125,125)" opacity="0.78"/><rect x="234.0" y="362.4" width="2.1" height="1.8" fill="rgb(129,129,129)" opacity="0.68"/><rect x="224.0" y="316.4" width="2.2" height="1.5" fill="rgb(136,136,136)" opacity="0.41"/><rect x="202.0" y="296.3" width="2.5" height="2.3" fill="rgb(125,125,125)" opacity="0.55"/><rect x="230.2" y="382.5" width="1.9" height="1.1" fill="rgb(90,90,90)" opacity="0.58"/><rect x="208.0" y="341.5" width="2.1" height="2.4" fill="rgb(65,65,65)" opacity="0.66"/><rect x="195.7" y="305.7" width="2.5" height="1.7" fill="rgb(151,151,151)" opacity="0.60"/><rect x="194.6" y="336.5" width="2.0" height="2.4" fill="rgb(158,158,158)" opacity="0.61"/><rect x="212.1" y="303.7" width="2.1" height="1.0" fill="rgb(75,75,75)" opacity="0.36"/><rect x="194.2" y="370.6" width="0.9" height="2.4" fill="rgb(68,68,68)" opacity="0.83"/><rect x="199.7" y="294.0" width="2.3" height="1.1" fill="rgb(133,133,133)" opacity="0.45"/><rect x="196.2" y="381.0" width="2.3" height="2.2" fill="rgb(132,132,132)" opacity="0.40"/><rect x="221.7" y="373.6" width="1.7" height="2.4" fill="rgb(85,85,85)" opacity="0.88"/><rect x="225.6" y="293.3" width="0.6" height="1.8" fill="rgb(141,141,141)" opacity="0.39"/><rect x="207.7" y="375.9" width="1.0" height="2.2" fill="rgb(108,108,108)" opacity="0.38"/><rect x="210.2" y="358.1" width="1.7" height="1.9" fill="rgb(74,74,74)" opacity="0.79"/><rect x="210.0" y="366.2" width="2.1" height="1.4" fill="rgb(98,98,98)" opacity="0.78"/><rect x="235.6" y="382.2" width="2.0" height="1.2" fill="rgb(66,66,66)" opacity="0.89"/><rect x="224.9" y="387.2" width="1.4" height="1.8" fill="rgb(157,157,157)" opacity="0.81"/><rect x="220.5" y="327.5" width="1.6" height="2.3" fill="rgb(97,97,97)" opacity="0.73"/><rect x="220.5" y="395.1" width="2.5" height="1.1" fill="rgb(60,60,60)" opacity="0.49"/><rect x="212.6" y="359.5" width="2.6" height="2.3" fill="rgb(64,64,64)" opacity="0.81"/><rect x="229.7" y="391.7" width="2.0" height="1.1" fill="rgb(145,145,145)" opacity="0.79"/><rect x="224.1" y="397.1" width="1.4" height="0.8" fill="rgb(115,115,115)" opacity="0.79"/><rect x="202.8" y="378.3" width="2.8" height="1.0" fill="rgb(120,120,120)" opacity="0.72"/><rect x="214.5" y="315.8" width="1.2" height="2.0" fill="rgb(139,139,139)" opacity="0.60"/><rect x="197.9" y="384.8" width="2.5" height="1.0" fill="rgb(117,117,117)" opacity="0.84"/><rect x="232.9" y="352.0" width="1.7" height="1.7" fill="rgb(78,78,78)" opacity="0.46"/><rect x="202.0" y="372.6" width="1.5" height="1.7" fill="rgb(100,100,100)" opacity="0.63"/><rect x="200.6" y="297.1" width="3.0" height="1.3" fill="rgb(70,70,70)" opacity="0.70"/><rect x="228.6" y="310.0" width="2.0" height="1.3" fill="rgb(111,111,111)" opacity="0.36"/><rect x="195.5" y="405.9" width="2.7" height="1.5" fill="rgb(116,116,116)" opacity="0.49"/><rect x="228.3" y="341.0" width="2.9" height="2.1" fill="rgb(141,141,141)" opacity="0.88"/><rect x="205.2" y="296.4" width="1.1" height="0.9" fill="rgb(68,68,68)" opacity="0.38"/><rect x="218.5" y="392.1" width="1.7" height="2.4" fill="rgb(150,150,150)" opacity="0.39"/><rect x="220.3" y="337.7" width="0.9" height="2.4" fill="rgb(85,85,85)" opacity="0.66"/><rect x="222.2" y="402.0" width="2.2" height="1.3" fill="rgb(104,104,104)" opacity="0.44"/><rect x="236.5" y="406.0" width="1.1" height="0.7" fill="rgb(85,85,85)" opacity="0.54"/><rect x="233.7" y="396.0" width="2.6" height="0.7" fill="rgb(138,138,138)" opacity="0.74"/><rect x="222.5" y="405.3" width="0.7" height="0.9" fill="rgb(135,135,135)" opacity="0.87"/><rect x="223.8" y="326.4" width="2.0" height="2.0" fill="rgb(70,70,70)" opacity="0.53"/><rect x="205.3" y="306.3" width="1.8" height="0.9" fill="rgb(83,83,83)" opacity="0.43"/><rect x="223.8" y="293.5" width="2.3" height="1.0" fill="rgb(63,63,63)" opacity="0.86"/><rect x="203.7" y="399.4" width="2.7" height="2.3" fill="rgb(73,73,73)" opacity="0.60"/><rect x="198.3" y="398.8" width="2.6" height="1.8" fill="rgb(105,105,105)" opacity="0.54"/><rect x="230.2" y="346.9" width="2.1" height="0.9" fill="rgb(82,82,82)" opacity="0.38"/><rect x="225.4" y="355.6" width="0.9" height="2.3" fill="rgb(86,86,86)" opacity="0.58"/><rect x="200.9" y="323.2" width="2.6" height="1.2" fill="rgb(76,76,76)" opacity="0.62"/><rect x="208.0" y="395.9" width="0.9" height="2.5" fill="rgb(65,65,65)" opacity="0.84"/><rect x="223.4" y="316.3" width="1.7" height="1.1" fill="rgb(85,85,85)" opacity="0.46"/><rect x="210.0" y="406.0" width="3.0" height="2.4" fill="rgb(69,69,69)" opacity="0.51"/><rect x="233.4" y="298.6" width="2.3" height="1.2" fill="rgb(157,157,157)" opacity="0.36"/><rect x="229.5" y="331.2" width="0.9" height="0.6" fill="rgb(143,143,143)" opacity="0.64"/><rect x="202.2" y="342.1" width="2.8" height="1.0" fill="rgb(117,117,117)" opacity="0.43"/><rect x="201.9" y="380.6" width="2.3" height="1.0" fill="rgb(67,67,67)" opacity="0.40"/><rect x="220.8" y="349.0" width="1.3" height="1.0" fill="rgb(121,121,121)" opacity="0.74"/><rect x="229.7" y="359.0" width="1.1" height="0.7" fill="rgb(133,133,133)" opacity="0.57"/><rect x="225.8" y="298.4" width="2.5" height="1.2" fill="rgb(144,144,144)" opacity="0.83"/><rect x="215.7" y="293.8" width="2.8" height="1.5" fill="rgb(147,147,147)" opacity="0.50"/><rect x="202.2" y="387.6" width="1.5" height="0.9" fill="rgb(97,97,97)" opacity="0.68"/><rect x="194.2" y="351.8" width="1.7" height="1.6" fill="rgb(72,72,72)" opacity="0.74"/><rect x="229.9" y="391.5" width="1.4" height="2.0" fill="rgb(98,98,98)" opacity="0.76"/><rect x="196.7" y="392.4" width="2.9" height="1.5" fill="rgb(111,111,111)" opacity="0.64"/><rect x="217.6" y="294.4" width="2.9" height="1.0" fill="rgb(78,78,78)" opacity="0.41"/><rect x="205.0" y="386.0" width="0.7" height="0.8" fill="rgb(129,129,129)" opacity="0.46"/><rect x="194.8" y="360.9" width="2.0" height="1.6" fill="rgb(130,130,130)" opacity="0.41"/><rect x="232.3" y="374.5" width="0.7" height="0.8" fill="rgb(109,109,109)" opacity="0.63"/><rect x="206.3" y="306.0" width="1.6" height="0.9" fill="rgb(119,119,119)" opacity="0.82"/><rect x="200.5" y="357.9" width="2.4" height="0.9" fill="rgb(142,142,142)" opacity="0.87"/><rect x="211.1" y="340.4" width="2.6" height="1.6" fill="rgb(99,99,99)" opacity="0.87"/><rect x="228.2" y="330.9" width="1.2" height="1.2" fill="rgb(103,103,103)" opacity="0.89"/><rect x="229.4" y="397.0" width="2.6" height="2.2" fill="rgb(65,65,65)" opacity="0.63"/><rect x="236.1" y="399.4" width="1.2" height="1.4" fill="rgb(123,123,123)" opacity="0.55"/><rect x="217.4" y="300.0" width="1.6" height="1.6" fill="rgb(62,62,62)" opacity="0.43"/><rect x="236.7" y="381.3" width="2.8" height="1.8" fill="rgb(140,140,140)" opacity="0.84"/><rect x="232.9" y="296.0" width="2.1" height="1.1" fill="rgb(127,127,127)" opacity="0.50"/><rect x="217.9" y="398.3" width="2.1" height="1.1" fill="rgb(112,112,112)" opacity="0.59"/><rect x="235.8" y="325.1" width="1.3" height="1.8" fill="rgb(72,72,72)" opacity="0.68"/><rect x="236.1" y="351.1" width="1.2" height="1.5" fill="rgb(113,113,113)" opacity="0.43"/><rect x="199.5" y="307.1" width="1.3" height="1.4" fill="rgb(88,88,88)" opacity="0.48"/><rect x="197.9" y="354.8" width="2.6" height="1.8" fill="rgb(117,117,117)" opacity="0.71"/><rect x="202.9" y="373.7" width="1.7" height="1.6" fill="rgb(121,121,121)" opacity="0.61"/><rect x="207.7" y="319.9" width="1.1" height="1.6" fill="rgb(98,98,98)" opacity="0.67"/><rect x="194.5" y="332.6" width="2.7" height="1.1" fill="rgb(115,115,115)" opacity="0.62"/><rect x="206.5" y="405.6" width="1.3" height="2.1" fill="rgb(75,75,75)" opacity="0.39"/><rect x="232.3" y="342.6" width="0.7" height="1.3" fill="rgb(103,103,103)" opacity="0.75"/><rect x="198.8" y="317.9" width="2.9" height="2.0" fill="rgb(75,75,75)" opacity="0.54"/><rect x="209.5" y="369.7" width="2.1" height="2.2" fill="rgb(142,142,142)" opacity="0.63"/><rect x="226.5" y="377.5" width="2.4" height="1.5" fill="rgb(138,138,138)" opacity="0.74"/><rect x="234.2" y="306.6" width="2.7" height="0.6" fill="rgb(136,136,136)" opacity="0.67"/><rect x="215.9" y="402.7" width="2.0" height="1.4" fill="rgb(138,138,138)" opacity="0.83"/><rect x="220.7" y="335.6" width="1.7" height="1.5" fill="rgb(132,132,132)" opacity="0.51"/><rect x="211.2" y="355.9" width="1.5" height="1.2" fill="rgb(138,138,138)" opacity="0.82"/><rect x="216.0" y="343.1" width="1.0" height="1.2" fill="rgb(74,74,74)" opacity="0.67"/><rect x="219.6" y="302.1" width="2.8" height="1.2" fill="rgb(144,144,144)" opacity="0.81"/><rect x="236.2" y="315.5" width="1.6" height="2.3" fill="rgb(61,61,61)" opacity="0.38"/><rect x="218.9" y="349.2" width="2.8" height="2.1" fill="rgb(113,113,113)" opacity="0.90"/><rect x="216.8" y="351.5" width="2.2" height="1.3" fill="rgb(95,95,95)" opacity="0.68"/><rect x="209.4" y="401.0" width="2.2" height="1.6" fill="rgb(69,69,69)" opacity="0.56"/><rect x="211.6" y="356.6" width="2.0" height="2.3" fill="rgb(156,156,156)" opacity="0.62"/><rect x="213.4" y="363.8" width="3.0" height="1.3" fill="rgb(113,113,113)" opacity="0.80"/><rect x="201.5" y="328.6" width="2.9" height="2.2" fill="rgb(111,111,111)" opacity="0.41"/><rect x="233.4" y="371.3" width="2.6" height="2.5" fill="rgb(148,148,148)" opacity="0.58"/><rect x="200.9" y="325.3" width="1.8" height="1.6" fill="rgb(78,78,78)" opacity="0.45"/><rect x="221.7" y="361.4" width="1.4" height="2.5" fill="rgb(123,123,123)" opacity="0.37"/><rect x="212.1" y="382.6" width="1.3" height="1.9" fill="rgb(60,60,60)" opacity="0.52"/><rect x="231.1" y="359.4" width="2.2" height="1.0" fill="rgb(109,109,109)" opacity="0.65"/><rect x="205.7" y="366.4" width="1.9" height="2.5" fill="rgb(117,117,117)" opacity="0.58"/><rect x="199.3" y="310.0" width="2.4" height="0.8" fill="rgb(70,70,70)" opacity="0.44"/><rect x="217.0" y="386.7" width="2.1" height="2.1" fill="rgb(66,66,66)" opacity="0.36"/><rect x="227.9" y="329.1" width="2.3" height="1.3" fill="rgb(76,76,76)" opacity="0.50"/><rect x="198.4" y="395.9" width="2.0" height="1.3" fill="rgb(104,104,104)" opacity="0.56"/><rect x="196.4" y="394.4" width="2.0" height="2.4" fill="rgb(103,103,103)" opacity="0.69"/><rect x="205.0" y="297.1" width="2.8" height="2.2" fill="rgb(91,91,91)" opacity="0.84"/><rect x="229.9" y="326.9" width="2.0" height="2.4" fill="rgb(109,109,109)" opacity="0.87"/><rect x="204.7" y="336.8" width="2.3" height="1.0" fill="rgb(90,90,90)" opacity="0.83"/><rect x="215.3" y="383.2" width="1.2" height="0.9" fill="rgb(95,95,95)" opacity="0.45"/><rect x="236.7" y="325.4" width="1.9" height="0.8" fill="rgb(113,113,113)" opacity="0.56"/><rect x="211.7" y="299.5" width="0.9" height="2.2" fill="rgb(95,95,95)" opacity="0.48"/><rect x="202.4" y="324.6" width="1.2" height="0.7" fill="rgb(126,126,126)" opacity="0.54"/><rect x="200.9" y="373.2" width="0.8" height="1.1" fill="rgb(143,143,143)" opacity="0.42"/><rect x="213.5" y="388.2" width="2.5" height="0.9" fill="rgb(95,95,95)" opacity="0.75"/><rect x="210.6" y="402.2" width="1.1" height="2.4" fill="rgb(110,110,110)" opacity="0.48"/><rect x="213.9" y="307.1" width="2.3" height="1.1" fill="rgb(149,149,149)" opacity="0.67"/><rect x="210.2" y="320.3" width="2.1" height="1.0" fill="rgb(147,147,147)" opacity="0.42"/><rect x="216.6" y="354.4" width="1.2" height="2.1" fill="rgb(98,98,98)" opacity="0.71"/><rect x="219.0" y="327.7" width="1.5" height="0.8" fill="rgb(77,77,77)" opacity="0.82"/><rect x="208.1" y="368.2" width="0.9" height="1.7" fill="rgb(96,96,96)" opacity="0.63"/><rect x="207.1" y="299.6" width="1.3" height="1.0" fill="rgb(72,72,72)" opacity="0.74"/><rect x="206.4" y="338.4" width="2.8" height="2.1" fill="rgb(148,148,148)" opacity="0.82"/><rect x="199.8" y="323.8" width="0.7" height="1.9" fill="rgb(126,126,126)" opacity="0.54"/><rect x="212.2" y="367.8" width="2.3" height="1.1" fill="rgb(144,144,144)" opacity="0.54"/><rect x="221.7" y="312.9" width="0.9" height="2.3" fill="rgb(133,133,133)" opacity="0.74"/><rect x="195.8" y="296.6" width="1.0" height="1.0" fill="rgb(90,90,90)" opacity="0.56"/><rect x="195.7" y="327.8" width="2.1" height="0.9" fill="rgb(143,143,143)" opacity="0.66"/><rect x="225.5" y="321.3" width="1.6" height="1.9" fill="rgb(94,94,94)" opacity="0.35"/><rect x="230.7" y="381.3" width="1.3" height="0.7" fill="rgb(145,145,145)" opacity="0.68"/><rect x="196.1" y="320.1" width="0.9" height="2.1" fill="rgb(81,81,81)" opacity="0.85"/><rect x="227.0" y="301.9" width="2.3" height="1.3" fill="rgb(134,134,134)" opacity="0.81"/><rect x="206.4" y="302.3" width="2.9" height="1.4" fill="rgb(153,153,153)" opacity="0.73"/><rect x="226.5" y="387.4" width="2.1" height="1.5" fill="rgb(65,65,65)" opacity="0.73"/><rect x="212.8" y="350.9" width="2.8" height="0.8" fill="rgb(136,136,136)" opacity="0.37"/><rect x="224.9" y="384.7" width="1.2" height="1.6" fill="rgb(156,156,156)" opacity="0.70"/><rect x="217.9" y="320.7" width="0.7" height="1.3" fill="rgb(101,101,101)" opacity="0.46"/><rect x="207.7" y="307.7" width="2.3" height="1.9" fill="rgb(83,83,83)" opacity="0.48"/><rect x="216.7" y="343.2" width="2.8" height="1.3" fill="rgb(89,89,89)" opacity="0.84"/><rect x="200.2" y="356.8" width="1.4" height="2.1" fill="rgb(114,114,114)" opacity="0.77"/><rect x="201.4" y="368.7" width="2.0" height="1.5" fill="rgb(136,136,136)" opacity="0.81"/><rect x="199.0" y="325.3" width="1.5" height="1.0" fill="rgb(66,66,66)" opacity="0.50"/><rect x="202.7" y="372.7" width="1.7" height="0.8" fill="rgb(92,92,92)" opacity="0.61"/><rect x="210.0" y="311.3" width="0.8" height="0.6" fill="rgb(159,159,159)" opacity="0.76"/><rect x="197.7" y="374.5" width="3.0" height="1.7" fill="rgb(70,70,70)" opacity="0.62"/><rect x="213.1" y="313.8" width="1.9" height="0.6" fill="rgb(151,151,151)" opacity="0.70"/><rect x="221.6" y="399.6" width="2.2" height="1.1" fill="rgb(84,84,84)" opacity="0.43"/><rect x="195.2" y="381.1" width="2.6" height="1.2" fill="rgb(78,78,78)" opacity="0.70"/><rect x="231.2" y="398.6" width="1.0" height="2.1" fill="rgb(143,143,143)" opacity="0.76"/><rect x="208.4" y="313.2" width="2.6" height="1.2" fill="rgb(96,96,96)" opacity="0.65"/><rect x="210.2" y="387.6" width="1.2" height="0.7" fill="rgb(116,116,116)" opacity="0.70"/><rect x="230.1" y="373.1" width="2.8" height="2.4" fill="rgb(109,109,109)" opacity="0.62"/><rect x="200.9" y="326.5" width="2.0" height="0.8" fill="rgb(128,128,128)" opacity="0.44"/><rect x="213.5" y="403.5" width="0.8" height="0.7" fill="rgb(103,103,103)" opacity="0.45"/><rect x="225.8" y="292.3" width="2.6" height="2.2" fill="rgb(138,138,138)" opacity="0.58"/><rect x="206.5" y="368.1" width="1.8" height="1.4" fill="rgb(93,93,93)" opacity="0.59"/><rect x="223.3" y="387.0" width="2.8" height="0.9" fill="rgb(89,89,89)" opacity="0.59"/><rect x="218.8" y="332.0" width="1.1" height="0.8" fill="rgb(92,92,92)" opacity="0.60"/><rect x="236.7" y="396.5" width="2.7" height="2.5" fill="rgb(156,156,156)" opacity="0.69"/><rect x="229.7" y="298.9" width="2.2" height="1.8" fill="rgb(89,89,89)" opacity="0.66"/><rect x="235.9" y="347.3" width="2.2" height="1.2" fill="rgb(94,94,94)" opacity="0.84"/><rect x="195.2" y="313.7" width="2.2" height="1.4" fill="rgb(68,68,68)" opacity="0.71"/><rect x="210.4" y="358.8" width="1.6" height="1.6" fill="rgb(116,116,116)" opacity="0.57"/><rect x="199.0" y="312.8" width="2.7" height="1.6" fill="rgb(71,71,71)" opacity="0.82"/><rect x="205.2" y="302.9" width="1.9" height="1.1" fill="rgb(108,108,108)" opacity="0.65"/><rect x="204.0" y="357.9" width="0.9" height="1.6" fill="rgb(118,118,118)" opacity="0.39"/><rect x="212.0" y="300.4" width="1.7" height="2.2" fill="rgb(115,115,115)" opacity="0.74"/><rect x="227.3" y="305.2" width="3.0" height="2.0" fill="rgb(70,70,70)" opacity="0.81"/><rect x="211.2" y="311.7" width="2.9" height="1.7" fill="rgb(137,137,137)" opacity="0.43"/><rect x="228.2" y="298.6" width="1.2" height="1.3" fill="rgb(61,61,61)" opacity="0.68"/><rect x="203.4" y="326.5" width="2.3" height="1.4" fill="rgb(148,148,148)" opacity="0.69"/><rect x="232.4" y="356.7" width="2.8" height="2.3" fill="rgb(76,76,76)" opacity="0.76"/><rect x="209.0" y="379.8" width="2.2" height="2.2" fill="rgb(72,72,72)" opacity="0.56"/><rect x="226.4" y="401.0" width="2.3" height="0.7" fill="rgb(120,120,120)" opacity="0.40"/><rect x="218.1" y="384.3" width="0.9" height="2.4" fill="rgb(127,127,127)" opacity="0.49"/><rect x="202.5" y="343.4" width="2.6" height="1.7" fill="rgb(71,71,71)" opacity="0.36"/><rect x="198.9" y="384.1" width="1.0" height="1.7" fill="rgb(89,89,89)" opacity="0.73"/><rect x="210.8" y="308.6" width="2.7" height="1.6" fill="rgb(128,128,128)" opacity="0.79"/><rect x="235.7" y="293.6" width="1.4" height="0.9" fill="rgb(110,110,110)" opacity="0.83"/><rect x="229.2" y="296.1" width="1.0" height="2.2" fill="rgb(127,127,127)" opacity="0.57"/><rect x="214.9" y="310.2" width="2.6" height="1.3" fill="rgb(147,147,147)" opacity="0.69"/><rect x="197.3" y="329.9" width="1.1" height="2.3" fill="rgb(118,118,118)" opacity="0.37"/><rect x="201.5" y="333.5" width="1.7" height="1.7" fill="rgb(98,98,98)" opacity="0.54"/><rect x="194.3" y="358.6" width="1.4" height="0.6" fill="rgb(105,105,105)" opacity="0.89"/><rect x="196.0" y="308.8" width="2.2" height="1.1" fill="rgb(87,87,87)" opacity="0.63"/><rect x="205.5" y="357.4" width="1.9" height="2.4" fill="rgb(159,159,159)" opacity="0.37"/><rect x="218.7" y="380.7" width="2.7" height="2.1" fill="rgb(123,123,123)" opacity="0.70"/><rect x="210.0" y="324.4" width="2.5" height="2.3" fill="rgb(153,153,153)" opacity="0.72"/><rect x="207.4" y="379.8" width="2.4" height="1.6" fill="rgb(123,123,123)" opacity="0.54"/><rect x="218.2" y="338.7" width="0.7" height="1.2" fill="rgb(92,92,92)" opacity="0.89"/><rect x="215.2" y="334.2" width="1.2" height="1.0" fill="rgb(94,94,94)" opacity="0.42"/><rect x="194.3" y="392.2" width="1.7" height="1.4" fill="rgb(116,116,116)" opacity="0.52"/><rect x="201.4" y="299.6" width="1.3" height="1.2" fill="rgb(132,132,132)" opacity="0.65"/><rect x="235.2" y="331.2" width="2.8" height="1.7" fill="rgb(68,68,68)" opacity="0.45"/><rect x="219.5" y="405.6" width="1.5" height="2.1" fill="rgb(102,102,102)" opacity="0.83"/><rect x="196.2" y="351.8" width="1.9" height="0.9" fill="rgb(88,88,88)" opacity="0.36"/><rect x="199.3" y="328.7" width="1.6" height="0.8" fill="rgb(97,97,97)" opacity="0.46"/><rect x="213.3" y="392.5" width="1.5" height="0.8" fill="rgb(121,121,121)" opacity="0.88"/><rect x="213.2" y="308.5" width="1.7" height="1.5" fill="rgb(93,93,93)" opacity="0.43"/><rect x="200.0" y="357.5" width="1.8" height="1.2" fill="rgb(134,134,134)" opacity="0.47"/><rect x="204.5" y="380.2" width="1.5" height="1.0" fill="rgb(117,117,117)" opacity="0.54"/><rect x="195.8" y="344.3" width="0.7" height="1.2" fill="rgb(93,93,93)" opacity="0.62"/><rect x="213.1" y="327.5" width="1.2" height="0.6" fill="rgb(134,134,134)" opacity="0.66"/><rect x="225.6" y="306.0" width="1.5" height="1.3" fill="rgb(93,93,93)" opacity="0.40"/><rect x="199.0" y="315.3" width="1.7" height="0.7" fill="rgb(126,126,126)" opacity="0.58"/><rect x="211.2" y="363.0" width="1.4" height="1.3" fill="rgb(112,112,112)" opacity="0.53"/><rect x="217.7" y="327.6" width="1.6" height="1.4" fill="rgb(124,124,124)" opacity="0.52"/><rect x="218.7" y="404.6" width="1.2" height="0.9" fill="rgb(106,106,106)" opacity="0.87"/><rect x="198.2" y="301.0" width="1.3" height="1.3" fill="rgb(124,124,124)" opacity="0.55"/><rect x="225.7" y="324.4" width="1.7" height="0.7" fill="rgb(71,71,71)" opacity="0.42"/><rect x="195.9" y="353.7" width="1.4" height="0.8" fill="rgb(135,135,135)" opacity="0.55"/><rect x="198.8" y="319.0" width="1.6" height="1.5" fill="rgb(81,81,81)" opacity="0.37"/><rect x="218.9" y="326.0" width="2.0" height="1.1" fill="rgb(114,114,114)" opacity="0.54"/><rect x="219.6" y="349.2" width="1.1" height="1.5" fill="rgb(77,77,77)" opacity="0.75"/><rect x="196.1" y="369.1" width="1.2" height="1.5" fill="rgb(74,74,74)" opacity="0.66"/><rect x="207.1" y="398.3" width="1.9" height="1.2" fill="rgb(85,85,85)" opacity="0.49"/><rect x="202.4" y="346.4" width="0.9" height="0.8" fill="rgb(123,123,123)" opacity="0.70"/><rect x="203.6" y="406.4" width="0.9" height="1.2" fill="rgb(80,80,80)" opacity="0.82"/><rect x="221.8" y="328.6" width="1.7" height="1.4" fill="rgb(89,89,89)" opacity="0.53"/><rect x="209.5" y="395.3" width="0.8" height="1.3" fill="rgb(111,111,111)" opacity="0.60"/><rect x="212.5" y="394.5" width="0.9" height="1.5" fill="rgb(95,95,95)" opacity="0.78"/><rect x="221.6" y="319.5" width="1.8" height="1.6" fill="rgb(90,90,90)" opacity="0.36"/><rect x="197.6" y="404.3" width="0.6" height="1.5" fill="rgb(80,80,80)" opacity="0.75"/><rect x="197.1" y="318.1" width="1.6" height="0.7" fill="rgb(93,93,93)" opacity="0.86"/><rect x="216.9" y="394.4" width="2.0" height="0.6" fill="rgb(86,86,86)" opacity="0.79"/><rect x="216.1" y="304.1" width="1.3" height="0.8" fill="rgb(100,100,100)" opacity="0.41"/><rect x="194.6" y="406.0" width="1.0" height="1.5" fill="rgb(78,78,78)" opacity="0.62"/><rect x="198.3" y="345.8" width="0.9" height="1.3" fill="rgb(80,80,80)" opacity="0.76"/><rect x="210.0" y="312.0" width="1.1" height="1.1" fill="rgb(134,134,134)" opacity="0.54"/><rect x="200.9" y="403.5" width="1.8" height="1.3" fill="rgb(89,89,89)" opacity="0.45"/><rect x="202.5" y="307.4" width="0.7" height="1.1" fill="rgb(98,98,98)" opacity="0.66"/><rect x="205.6" y="301.1" width="1.6" height="1.3" fill="rgb(108,108,108)" opacity="0.65"/><rect x="216.1" y="405.1" width="1.8" height="1.3" fill="rgb(97,97,97)" opacity="0.53"/><rect x="207.4" y="404.1" width="1.1" height="1.0" fill="rgb(98,98,98)" opacity="0.43"/><rect x="225.9" y="300.6" width="1.5" height="1.5" fill="rgb(87,87,87)" opacity="0.69"/><rect x="206.1" y="325.8" width="0.9" height="0.7" fill="rgb(129,129,129)" opacity="0.78"/><rect x="223.1" y="305.3" width="1.6" height="0.9" fill="rgb(115,115,115)" opacity="0.65"/><rect x="204.1" y="404.0" width="0.6" height="1.3" fill="rgb(129,129,129)" opacity="0.63"/><rect x="213.0" y="406.4" width="0.9" height="1.2" fill="rgb(122,122,122)" opacity="0.56"/><rect x="216.8" y="342.1" width="1.3" height="1.2" fill="rgb(117,117,117)" opacity="0.53"/><rect x="214.1" y="358.1" width="0.9" height="1.2" fill="rgb(88,88,88)" opacity="0.85"/><rect x="209.1" y="377.2" width="1.3" height="1.1" fill="rgb(85,85,85)" opacity="0.43"/><rect x="223.7" y="356.6" width="1.3" height="1.1" fill="rgb(126,126,126)" opacity="0.48"/><rect x="199.5" y="387.9" width="1.2" height="1.2" fill="rgb(127,127,127)" opacity="0.84"/><rect x="221.8" y="304.6" width="1.1" height="1.4" fill="rgb(127,127,127)" opacity="0.42"/><rect x="198.9" y="326.9" width="0.7" height="1.0" fill="rgb(126,126,126)" opacity="0.64"/><rect x="208.5" y="309.4" width="1.2" height="1.6" fill="rgb(118,118,118)" opacity="0.60"/><rect x="209.3" y="385.4" width="1.7" height="0.7" fill="rgb(117,117,117)" opacity="0.55"/><rect x="210.7" y="325.4" width="1.1" height="0.9" fill="rgb(96,96,96)" opacity="0.36"/><rect x="200.4" y="361.0" width="0.7" height="0.8" fill="rgb(120,120,120)" opacity="0.50"/><rect x="204.4" y="325.9" width="1.8" height="0.7" fill="rgb(114,114,114)" opacity="0.82"/><rect x="200.5" y="345.3" width="1.7" height="1.2" fill="rgb(96,96,96)" opacity="0.37"/><rect x="208.2" y="339.3" width="1.6" height="0.9" fill="rgb(98,98,98)" opacity="0.71"/><rect x="219.9" y="337.7" width="1.1" height="1.2" fill="rgb(134,134,134)" opacity="0.46"/><rect x="225.1" y="376.2" width="1.1" height="1.3" fill="rgb(93,93,93)" opacity="0.39"/><rect x="218.2" y="340.6" width="1.3" height="1.1" fill="rgb(133,133,133)" opacity="0.77"/><rect x="194.8" y="363.4" width="1.2" height="1.1" fill="rgb(128,128,128)" opacity="0.58"/><rect x="209.2" y="395.3" width="1.2" height="1.1" fill="rgb(105,105,105)" opacity="0.80"/><rect x="215.5" y="379.2" width="1.2" height="0.6" fill="rgb(117,117,117)" opacity="0.65"/><rect x="218.6" y="382.4" width="0.8" height="0.8" fill="rgb(75,75,75)" opacity="0.80"/><rect x="197.3" y="309.4" width="1.7" height="1.2" fill="rgb(73,73,73)" opacity="0.72"/><rect x="216.8" y="351.7" width="0.7" height="1.3" fill="rgb(99,99,99)" opacity="0.67"/><rect x="225.9" y="387.4" width="1.8" height="0.7" fill="rgb(93,93,93)" opacity="0.64"/><rect x="194.2" y="405.8" width="1.0" height="0.9" fill="rgb(91,91,91)" opacity="0.49"/><rect x="221.5" y="359.5" width="1.3" height="1.0" fill="rgb(73,73,73)" opacity="0.52"/><rect x="221.7" y="385.8" width="1.8" height="0.9" fill="rgb(84,84,84)" opacity="0.38"/><rect x="211.2" y="340.0" width="1.2" height="1.1" fill="rgb(110,110,110)" opacity="0.55"/><rect x="219.6" y="321.4" width="1.9" height="1.2" fill="rgb(73,73,73)" opacity="0.52"/><rect x="211.1" y="343.8" width="1.4" height="0.9" fill="rgb(89,89,89)" opacity="0.79"/><rect x="203.3" y="376.0" width="1.7" height="1.2" fill="rgb(101,101,101)" opacity="0.86"/><rect x="208.2" y="394.0" width="0.7" height="1.0" fill="rgb(114,114,114)" opacity="0.38"/><rect x="221.6" y="307.7" width="1.4" height="0.8" fill="rgb(134,134,134)" opacity="0.66"/><rect x="219.6" y="353.3" width="1.5" height="1.3" fill="rgb(90,90,90)" opacity="0.47"/><rect x="220.8" y="315.6" width="1.9" height="0.8" fill="rgb(77,77,77)" opacity="0.40"/><rect x="219.1" y="401.7" width="1.2" height="1.3" fill="rgb(88,88,88)" opacity="0.85"/><rect x="215.9" y="316.6" width="0.7" height="1.3" fill="rgb(72,72,72)" opacity="0.81"/><rect x="203.4" y="324.9" width="1.4" height="0.9" fill="rgb(109,109,109)" opacity="0.43"/><rect x="223.2" y="334.7" width="1.8" height="0.8" fill="rgb(125,125,125)" opacity="0.89"/><rect x="206.5" y="303.5" width="1.1" height="1.2" fill="rgb(85,85,85)" opacity="0.65"/><rect x="197.0" y="349.7" width="1.6" height="1.0" fill="rgb(117,117,117)" opacity="0.41"/><rect x="220.5" y="313.1" width="1.9" height="1.6" fill="rgb(135,135,135)" opacity="0.64"/><rect x="203.3" y="337.2" width="1.7" height="1.1" fill="rgb(135,135,135)" opacity="0.40"/><rect x="209.5" y="392.4" width="1.4" height="1.1" fill="rgb(76,76,76)" opacity="0.43"/><rect x="202.7" y="395.6" width="1.8" height="0.8" fill="rgb(134,134,134)" opacity="0.37"/><rect x="213.2" y="403.5" width="1.1" height="1.5" fill="rgb(115,115,115)" opacity="0.38"/><rect x="204.7" y="348.1" width="0.9" height="1.3" fill="rgb(82,82,82)" opacity="0.78"/><rect x="203.5" y="307.4" width="1.4" height="0.7" fill="rgb(108,108,108)" opacity="0.78"/><rect x="213.1" y="349.4" width="0.6" height="1.1" fill="rgb(76,76,76)" opacity="0.71"/><rect x="198.2" y="361.8" width="1.1" height="1.0" fill="rgb(116,116,116)" opacity="0.44"/><rect x="199.4" y="400.7" width="1.1" height="1.4" fill="rgb(131,131,131)" opacity="0.61"/><rect x="198.8" y="310.1" width="1.8" height="0.7" fill="rgb(104,104,104)" opacity="0.64"/><rect x="197.8" y="350.1" width="0.8" height="1.1" fill="rgb(105,105,105)" opacity="0.55"/><rect x="200.3" y="343.2" width="0.9" height="0.7" fill="rgb(86,86,86)" opacity="0.83"/><rect x="210.1" y="395.3" width="0.6" height="1.5" fill="rgb(104,104,104)" opacity="0.79"/><rect x="212.3" y="373.7" width="0.9" height="1.4" fill="rgb(80,80,80)" opacity="0.50"/><rect x="195.0" y="342.1" width="1.3" height="0.9" fill="rgb(132,132,132)" opacity="0.40"/><rect x="212.5" y="325.0" width="1.4" height="1.4" fill="rgb(119,119,119)" opacity="0.38"/><rect x="201.9" y="364.1" width="2.0" height="0.6" fill="rgb(113,113,113)" opacity="0.73"/><rect x="220.1" y="336.6" width="1.7" height="1.1" fill="rgb(134,134,134)" opacity="0.36"/><rect x="224.1" y="344.1" width="1.2" height="0.7" fill="rgb(87,87,87)" opacity="0.75"/><rect x="215.7" y="316.2" width="1.1" height="0.7" fill="rgb(83,83,83)" opacity="0.47"/><rect x="204.6" y="404.4" width="2.0" height="1.4" fill="rgb(103,103,103)" opacity="0.62"/><rect x="218.9" y="397.2" width="1.7" height="1.2" fill="rgb(83,83,83)" opacity="0.69"/><rect x="221.1" y="384.2" width="0.7" height="1.3" fill="rgb(94,94,94)" opacity="0.44"/><rect x="224.9" y="372.0" width="1.6" height="0.7" fill="rgb(127,127,127)" opacity="0.87"/><rect x="223.0" y="379.7" width="1.8" height="1.4" fill="rgb(111,111,111)" opacity="0.59"/><rect x="220.4" y="383.9" width="1.8" height="0.9" fill="rgb(137,137,137)" opacity="0.64"/><rect x="224.3" y="312.4" width="2.0" height="1.4" fill="rgb(87,87,87)" opacity="0.81"/><rect x="201.4" y="321.2" width="1.2" height="0.8" fill="rgb(104,104,104)" opacity="0.85"/><rect x="215.9" y="376.0" width="1.1" height="1.4" fill="rgb(125,125,125)" opacity="0.73"/><rect x="224.1" y="388.4" width="1.2" height="0.7" fill="rgb(115,115,115)" opacity="0.81"/><rect x="204.9" y="363.7" width="1.8" height="1.4" fill="rgb(70,70,70)" opacity="0.62"/><rect x="194.5" y="311.8" width="1.7" height="1.0" fill="rgb(112,112,112)" opacity="0.60"/><rect x="204.7" y="322.9" width="1.1" height="1.4" fill="rgb(113,113,113)" opacity="0.51"/><rect x="196.8" y="329.0" width="1.6" height="1.0" fill="rgb(116,116,116)" opacity="0.79"/><rect x="197.9" y="373.1" width="0.7" height="1.4" fill="rgb(82,82,82)" opacity="0.50"/><rect x="224.6" y="338.8" width="0.9" height="1.5" fill="rgb(112,112,112)" opacity="0.84"/><rect x="206.6" y="353.5" width="1.9" height="1.1" fill="rgb(139,139,139)" opacity="0.45"/><rect x="220.6" y="317.4" width="1.3" height="0.6" fill="rgb(82,82,82)" opacity="0.87"/><rect x="208.5" y="386.6" width="1.0" height="1.0" fill="rgb(77,77,77)" opacity="0.65"/><rect x="221.6" y="355.0" width="1.1" height="1.5" fill="rgb(132,132,132)" opacity="0.72"/><rect x="196.4" y="366.8" width="1.2" height="1.6" fill="rgb(95,95,95)" opacity="0.71"/><rect x="214.2" y="340.2" width="1.3" height="1.3" fill="rgb(133,133,133)" opacity="0.62"/><rect x="205.6" y="404.5" width="0.7" height="1.4" fill="rgb(117,117,117)" opacity="0.66"/><rect x="208.3" y="380.4" width="1.8" height="1.3" fill="rgb(122,122,122)" opacity="0.37"/><rect x="204.4" y="314.7" width="1.9" height="1.5" fill="rgb(80,80,80)" opacity="0.67"/><rect x="212.5" y="305.0" width="1.1" height="1.3" fill="rgb(114,114,114)" opacity="0.50"/><rect x="218.4" y="331.2" width="1.4" height="1.0" fill="rgb(138,138,138)" opacity="0.71"/><rect x="219.8" y="372.4" width="1.1" height="1.6" fill="rgb(119,119,119)" opacity="0.73"/><rect x="202.9" y="317.3" width="1.4" height="1.4" fill="rgb(125,125,125)" opacity="0.54"/><rect x="198.5" y="355.2" width="1.8" height="0.8" fill="rgb(121,121,121)" opacity="0.44"/><rect x="204.0" y="305.7" width="1.0" height="1.0" fill="rgb(137,137,137)" opacity="0.88"/><rect x="200.0" y="333.1" width="1.9" height="0.8" fill="rgb(92,92,92)" opacity="0.59"/><rect x="197.5" y="327.8" width="1.2" height="1.0" fill="rgb(137,137,137)" opacity="0.50"/><rect x="200.5" y="397.2" width="1.2" height="1.4" fill="rgb(114,114,114)" opacity="0.78"/><rect x="204.1" y="316.3" width="1.7" height="1.1" fill="rgb(109,109,109)" opacity="0.72"/><rect x="218.1" y="329.5" width="1.1" height="1.5" fill="rgb(107,107,107)" opacity="0.51"/><rect x="214.2" y="327.8" width="1.7" height="0.6" fill="rgb(127,127,127)" opacity="0.66"/><rect x="205.3" y="400.6" width="1.0" height="0.8" fill="rgb(74,74,74)" opacity="0.65"/><rect x="218.1" y="372.6" width="1.2" height="1.4" fill="rgb(77,77,77)" opacity="0.52"/><rect x="214.6" y="403.5" width="1.5" height="1.3" fill="rgb(124,124,124)" opacity="0.57"/><rect x="224.1" y="379.4" width="1.1" height="1.0" fill="rgb(126,126,126)" opacity="0.54"/><rect x="199.9" y="393.3" width="1.3" height="1.1" fill="rgb(116,116,116)" opacity="0.85"/><rect x="198.3" y="336.2" width="0.7" height="1.0" fill="rgb(105,105,105)" opacity="0.82"/><rect x="215.4" y="361.8" width="1.2" height="1.2" fill="rgb(89,89,89)" opacity="0.81"/><rect x="219.2" y="389.7" width="0.8" height="1.3" fill="rgb(122,122,122)" opacity="0.63"/><rect x="222.7" y="396.2" width="1.6" height="1.4" fill="rgb(115,115,115)" opacity="0.83"/><rect x="198.2" y="375.3" width="1.6" height="1.2" fill="rgb(89,89,89)" opacity="0.39"/><rect x="213.3" y="388.2" width="1.0" height="0.8" fill="rgb(85,85,85)" opacity="0.40"/><rect x="215.6" y="404.3" width="1.7" height="1.0" fill="rgb(118,118,118)" opacity="0.39"/><rect x="220.8" y="334.8" width="0.6" height="1.2" fill="rgb(79,79,79)" opacity="0.50"/><rect x="195.9" y="347.7" width="1.4" height="1.4" fill="rgb(72,72,72)" opacity="0.81"/><rect x="197.5" y="324.0" width="1.5" height="0.9" fill="rgb(93,93,93)" opacity="0.66"/><rect x="201.0" y="384.9" width="0.9" height="1.4" fill="rgb(126,126,126)" opacity="0.65"/><rect x="195.0" y="383.3" width="0.6" height="1.1" fill="rgb(99,99,99)" opacity="0.38"/><rect x="193.5" y="188.2" width="32" height="0.9" fill="#7a7a7a" opacity="0.7"/><rect x="200.5" y="191.5" width="1.4" height="4.6" fill="rgb(175,175,175)" opacity="0.49"/><rect x="202.7" y="193.2" width="1.4" height="2.9" fill="rgb(175,175,175)" opacity="0.70"/><rect x="205.2" y="193.2" width="1.8" height="3.3" fill="rgb(175,175,175)" opacity="0.37"/><rect x="207.7" y="192.2" width="0.9" height="3.7" fill="rgb(175,175,175)" opacity="0.60"/><rect x="209.4" y="192.1" width="1.1" height="2.8" fill="rgb(175,175,175)" opacity="0.45"/><rect x="211.1" y="191.7" width="1.5" height="3.9" fill="rgb(175,175,175)" opacity="0.42"/><rect x="213.6" y="192.4" width="1.0" height="3.1" fill="rgb(175,175,175)" opacity="0.60"/><rect x="215.8" y="191.2" width="1.5" height="5.3" fill="rgb(175,175,175)" opacity="0.60"/><rect x="218.3" y="191.0" width="0.9" height="2.9" fill="rgb(175,175,175)" opacity="0.65"/><rect x="220.1" y="191.9" width="1.4" height="3.1" fill="rgb(175,175,175)" opacity="0.41"/><rect x="222.5" y="191.1" width="1.8" height="3.2" fill="rgb(175,175,175)" opacity="0.41"/><rect x="225.0" y="191.3" width="1.7" height="4.9" fill="rgb(175,175,175)" opacity="0.39"/><rect x="193.5" y="223.7" width="32" height="0.9" fill="#7a7a7a" opacity="0.7"/><rect x="200.5" y="226.8" width="1.0" height="4.8" fill="rgb(175,175,175)" opacity="0.70"/><rect x="202.6" y="227.9" width="1.6" height="3.8" fill="rgb(175,175,175)" opacity="0.39"/><rect x="204.7" y="226.8" width="1.4" height="3.9" fill="rgb(175,175,175)" opacity="0.44"/><rect x="206.4" y="227.4" width="1.7" height="4.5" fill="rgb(175,175,175)" opacity="0.69"/><rect x="208.9" y="228.1" width="1.5" height="3.5" fill="rgb(175,175,175)" opacity="0.64"/><rect x="210.9" y="228.0" width="0.8" height="2.9" fill="rgb(175,175,175)" opacity="0.48"/><rect x="212.2" y="226.8" width="1.6" height="4.8" fill="rgb(175,175,175)" opacity="0.37"/><rect x="214.9" y="227.5" width="1.3" height="2.4" fill="rgb(175,175,175)" opacity="0.57"/><rect x="217.3" y="226.7" width="1.3" height="4.3" fill="rgb(175,175,175)" opacity="0.44"/><rect x="219.8" y="228.2" width="1.2" height="2.5" fill="rgb(175,175,175)" opacity="0.39"/><rect x="221.5" y="227.4" width="1.3" height="4.1" fill="rgb(175,175,175)" opacity="0.60"/><rect x="223.5" y="226.5" width="0.9" height="4.6" fill="rgb(175,175,175)" opacity="0.51"/><rect x="225.1" y="226.7" width="1.5" height="4.6" fill="rgb(175,175,175)" opacity="0.58"/><rect x="193.5" y="259.0" width="32" height="0.9" fill="#7a7a7a" opacity="0.7"/><rect x="200.5" y="264.4" width="1.3" height="2.7" fill="rgb(175,175,175)" opacity="0.56"/><rect x="202.2" y="261.8" width="1.0" height="5.5" fill="rgb(175,175,175)" opacity="0.49"/><rect x="204.3" y="262.7" width="1.6" height="4.3" fill="rgb(175,175,175)" opacity="0.36"/><rect x="206.4" y="261.8" width="1.8" height="4.8" fill="rgb(175,175,175)" opacity="0.37"/><rect x="208.8" y="263.5" width="1.7" height="2.9" fill="rgb(175,175,175)" opacity="0.68"/><rect x="211.4" y="262.2" width="1.7" height="3.1" fill="rgb(175,175,175)" opacity="0.36"/><rect x="214.1" y="261.9" width="0.9" height="5.4" fill="rgb(175,175,175)" opacity="0.42"/><rect x="216.1" y="262.0" width="1.0" height="3.9" fill="rgb(175,175,175)" opacity="0.63"/><rect x="218.1" y="264.6" width="1.7" height="2.2" fill="rgb(175,175,175)" opacity="0.54"/><rect x="220.9" y="262.5" width="1.3" height="4.2" fill="rgb(175,175,175)" opacity="0.63"/><rect x="222.7" y="262.2" width="0.9" height="4.0" fill="rgb(175,175,175)" opacity="0.49"/><rect x="223.9" y="264.5" width="1.5" height="2.3" fill="rgb(175,175,175)" opacity="0.63"/><rect x="196.0" y="152.3" width="0.9" height="5.5" fill="rgb(170,170,170)" opacity="0.50"/><rect x="197.4" y="152.7" width="1.8" height="5.1" fill="rgb(170,170,170)" opacity="0.38"/><rect x="200.2" y="152.1" width="1.6" height="6.4" fill="rgb(170,170,170)" opacity="0.48"/><rect x="202.5" y="154.2" width="1.6" height="3.4" fill="rgb(170,170,170)" opacity="0.69"/><rect x="205.0" y="152.4" width="0.8" height="3.1" fill="rgb(170,170,170)" opacity="0.59"/><rect x="206.7" y="152.9" width="1.3" height="4.7" fill="rgb(170,170,170)" opacity="0.56"/><rect x="209.0" y="152.9" width="1.7" height="5.9" fill="rgb(170,170,170)" opacity="0.67"/><rect x="211.8" y="154.8" width="1.5" height="2.9" fill="rgb(170,170,170)" opacity="0.65"/><rect x="196.0" y="296.8" width="1.7" height="3.0" fill="rgb(170,170,170)" opacity="0.50"/><rect x="198.6" y="294.9" width="1.1" height="3.5" fill="rgb(170,170,170)" opacity="0.46"/><rect x="200.2" y="294.0" width="1.2" height="5.9" fill="rgb(170,170,170)" opacity="0.68"/><rect x="202.4" y="294.0" width="1.6" height="6.0" fill="rgb(170,170,170)" opacity="0.45"/><rect x="204.7" y="294.8" width="1.2" height="2.5" fill="rgb(170,170,170)" opacity="0.66"/><rect x="207.0" y="294.6" width="1.1" height="5.2" fill="rgb(170,170,170)" opacity="0.66"/><rect x="209.2" y="296.7" width="1.3" height="2.8" fill="rgb(170,170,170)" opacity="0.46"/><rect x="211.4" y="295.6" width="1.2" height="4.3" fill="rgb(170,170,170)" opacity="0.41"/><rect x="213.4" y="295.6" width="1.4" height="4.3" fill="rgb(170,170,170)" opacity="0.49"/><rect x="228.9" y="159.0" width="1.1" height="1.3" fill="#9a9a9a" opacity="0.7"/><rect x="228.8" y="162.5" width="1.0" height="1.4" fill="#9a9a9a" opacity="0.7"/><rect x="229.0" y="166.0" width="1.3" height="1.7" fill="#9a9a9a" opacity="0.7"/><rect x="228.2" y="169.5" width="2.1" height="2.2" fill="#9a9a9a" opacity="0.7"/><rect x="227.1" y="173.0" width="1.0" height="2.1" fill="#9a9a9a" opacity="0.7"/><rect x="227.1" y="176.5" width="2.4" height="2.0" fill="#9a9a9a" opacity="0.7"/><rect x="228.1" y="180.0" width="1.9" height="2.1" fill="#9a9a9a" opacity="0.7"/><rect x="226.7" y="183.5" width="1.1" height="1.0" fill="#9a9a9a" opacity="0.7"/><rect x="226.9" y="187.0" width="1.2" height="1.8" fill="#9a9a9a" opacity="0.7"/><rect x="227.2" y="194.0" width="2.2" height="1.3" fill="#9a9a9a" opacity="0.7"/><rect x="227.3" y="197.5" width="1.6" height="2.1" fill="#9a9a9a" opacity="0.7"/><rect x="228.3" y="201.0" width="1.1" height="2.5" fill="#9a9a9a" opacity="0.7"/><rect x="228.6" y="204.5" width="1.0" height="2.3" fill="#9a9a9a" opacity="0.7"/><rect x="228.6" y="208.0" width="2.2" height="2.1" fill="#9a9a9a" opacity="0.7"/><rect x="226.5" y="211.5" width="1.3" height="2.4" fill="#9a9a9a" opacity="0.7"/><rect x="228.1" y="215.0" width="1.9" height="2.1" fill="#9a9a9a" opacity="0.7"/><rect x="226.9" y="218.5" width="1.1" height="2.6" fill="#9a9a9a" opacity="0.7"/><rect x="228.1" y="222.0" width="1.9" height="1.4" fill="#9a9a9a" opacity="0.7"/><rect x="226.5" y="225.5" width="2.3" height="1.2" fill="#9a9a9a" opacity="0.7"/><rect x="228.3" y="232.5" width="1.2" height="2.3" fill="#9a9a9a" opacity="0.7"/><rect x="227.4" y="236.0" width="1.8" height="1.2" fill="#9a9a9a" opacity="0.7"/><rect x="228.5" y="239.5" width="1.4" height="1.6" fill="#9a9a9a" opacity="0.7"/><rect x="227.0" y="246.5" width="1.3" height="1.6" fill="#9a9a9a" opacity="0.7"/><rect x="228.1" y="250.0" width="1.7" height="2.4" fill="#9a9a9a" opacity="0.7"/><rect x="228.2" y="253.5" width="2.3" height="1.4" fill="#9a9a9a" opacity="0.7"/><rect x="227.6" y="257.0" width="1.2" height="1.7" fill="#9a9a9a" opacity="0.7"/><rect x="226.7" y="260.5" width="1.2" height="1.8" fill="#9a9a9a" opacity="0.7"/><rect x="227.1" y="264.0" width="1.7" height="1.2" fill="#9a9a9a" opacity="0.7"/><rect x="227.4" y="267.5" width="1.7" height="2.5" fill="#9a9a9a" opacity="0.7"/><rect x="226.7" y="271.0" width="1.3" height="2.2" fill="#9a9a9a" opacity="0.7"/><rect x="228.7" y="274.5" width="2.4" height="2.4" fill="#9a9a9a" opacity="0.7"/><rect x="228.9" y="278.0" width="1.8" height="1.4" fill="#9a9a9a" opacity="0.7"/><rect x="228.7" y="281.5" width="1.3" height="1.1" fill="#9a9a9a" opacity="0.7"/><rect x="228.8" y="285.0" width="1.7" height="2.2" fill="#9a9a9a" opacity="0.7"/><rect x="227.6" y="288.5" width="1.5" height="1.3" fill="#9a9a9a" opacity="0.7"/><rect x="227.4" y="292.0" width="1.2" height="2.6" fill="#9a9a9a" opacity="0.7"/><rect x="226.9" y="295.5" width="1.0" height="2.0" fill="#9a9a9a" opacity="0.7"/><rect x="195.9" y="119.8" width="4.3" height="1.5" fill="#d4d4d0" opacity="0.8"/><rect x="195.9" y="122.2" width="4.3" height="1.5" fill="#d4d4d0" opacity="0.8"/><rect x="195.9" y="124.6" width="4.3" height="1.5" fill="#d4d4d0" opacity="0.8"/><rect x="195.9" y="127.0" width="4.3" height="1.5" fill="#d4d4d0" opacity="0.8"/><rect x="203" y="119.8" width="3.9" height="1.5" fill="#d4d4d0" opacity="0.8"/><rect x="203" y="122.2" width="3.9" height="1.5" fill="#d4d4d0" opacity="0.8"/><rect x="203" y="124.6" width="3.9" height="1.5" fill="#d4d4d0" opacity="0.8"/><rect x="203" y="127.0" width="3.9" height="1.5" fill="#d4d4d0" opacity="0.8"/><rect x="210.6" y="119.8" width="3.6" height="1.5" fill="#d4d4d0" opacity="0.8"/><rect x="210.6" y="122.2" width="3.6" height="1.5" fill="#d4d4d0" opacity="0.8"/><rect x="210.6" y="124.6" width="3.6" height="1.5" fill="#d4d4d0" opacity="0.8"/><rect x="210.6" y="127.0" width="3.6" height="1.5" fill="#d4d4d0" opacity="0.8"/><rect x="214.7" y="121" width="2.6" height="11" fill="#8a8a8a" opacity="0.6"/><rect x="194" y="117" width="30" height="1" fill="#6a6a6a" opacity="0.7"/><rect x="208.5" y="140" width="11" height="13" fill="#404040"/><rect x="206" y="328.4" width="10.8" height="9.6" fill="#3a3a3a"/><rect x="212" y="354.0" width="2.2" height="3" fill="#cfcfcf" opacity="0.8"/><rect x="215.5" y="354.0" width="2.2" height="3" fill="#cfcfcf" opacity="0.8"/><rect x="219" y="354.0" width="2.2" height="3" fill="#cfcfcf" opacity="0.8"/><rect x="212" y="358.5" width="2.2" height="3" fill="#cfcfcf" opacity="0.8"/><rect x="215.5" y="358.5" width="2.2" height="3" fill="#cfcfcf" opacity="0.8"/><rect x="219" y="358.5" width="2.2" height="3" fill="#cfcfcf" opacity="0.8"/><rect x="212" y="363.0" width="2.2" height="3" fill="#cfcfcf" opacity="0.8"/><rect x="215.5" y="363.0" width="2.2" height="3" fill="#cfcfcf" opacity="0.8"/><rect x="219" y="363.0" width="2.2" height="3" fill="#cfcfcf" opacity="0.8"/><rect x="212" y="367.5" width="2.2" height="3" fill="#cfcfcf" opacity="0.8"/><rect x="215.5" y="367.5" width="2.2" height="3" fill="#cfcfcf" opacity="0.8"/><rect x="219" y="367.5" width="2.2" height="3" fill="#cfcfcf" opacity="0.8"/><rect x="212" y="375.0" width="9.5" height="2" fill="#d8d8d8" opacity="0.8"/><rect x="212" y="379.0" width="9.5" height="2" fill="#d8d8d8" opacity="0.8"/><rect x="212" y="383.0" width="9.5" height="2" fill="#d8d8d8" opacity="0.8"/><rect x="196.0" y="342.6" width="1.3" height="0.8" fill="rgb(150,150,150)" opacity="0.61"/><rect x="198.1" y="342.4" width="1.0" height="1.4" fill="rgb(150,150,150)" opacity="0.58"/><rect x="199.7" y="342.0" width="1.6" height="1.9" fill="rgb(150,150,150)" opacity="0.65"/><rect x="202.0" y="342.2" width="1.7" height="1.0" fill="rgb(150,150,150)" opacity="0.56"/><rect x="204.8" y="342.0" width="0.9" height="1.1" fill="rgb(150,150,150)" opacity="0.50"/><rect x="206.2" y="342.2" width="1.0" height="1.7" fill="rgb(150,150,150)" opacity="0.68"/><rect x="207.9" y="343.1" width="1.5" height="0.8" fill="rgb(150,150,150)" opacity="0.43"/><rect x="196.0" y="347.0" width="1.3" height="1.9" fill="rgb(150,150,150)" opacity="0.70"/><rect x="198.2" y="347.0" width="1.0" height="1.8" fill="rgb(150,150,150)" opacity="0.70"/><rect x="200.0" y="347.0" width="1.0" height="2.0" fill="rgb(150,150,150)" opacity="0.49"/><rect x="201.7" y="347.4" width="1.5" height="0.8" fill="rgb(150,150,150)" opacity="0.41"/><rect x="204.2" y="347.1" width="0.8" height="1.5" fill="rgb(150,150,150)" opacity="0.51"/><rect x="205.9" y="347.2" width="1.5" height="1.0" fill="rgb(150,150,150)" opacity="0.39"/><rect x="208.6" y="347.5" width="0.9" height="1.0" fill="rgb(150,150,150)" opacity="0.55"/><rect x="196.0" y="352.2" width="0.9" height="1.1" fill="rgb(150,150,150)" opacity="0.55"/><rect x="197.6" y="352.1" width="1.2" height="1.9" fill="rgb(150,150,150)" opacity="0.65"/><rect x="200.0" y="352.0" width="1.1" height="1.9" fill="rgb(150,150,150)" opacity="0.37"/><rect x="202.2" y="352.3" width="0.9" height="0.8" fill="rgb(150,150,150)" opacity="0.45"/><rect x="204.3" y="352.4" width="1.7" height="1.3" fill="rgb(150,150,150)" opacity="0.65"/><rect x="207.0" y="352.1" width="1.5" height="1.4" fill="rgb(150,150,150)" opacity="0.44"/><rect x="209.4" y="352.2" width="1.4" height="1.8" fill="rgb(150,150,150)" opacity="0.69"/><rect x="196.0" y="357.1" width="0.9" height="1.9" fill="rgb(150,150,150)" opacity="0.41"/><rect x="197.8" y="357.3" width="1.1" height="1.1" fill="rgb(150,150,150)" opacity="0.53"/><rect x="199.8" y="357.2" width="0.9" height="1.7" fill="rgb(150,150,150)" opacity="0.52"/><rect x="201.6" y="357.6" width="1.6" height="0.8" fill="rgb(150,150,150)" opacity="0.59"/><rect x="204.2" y="357.9" width="1.4" height="1.0" fill="rgb(150,150,150)" opacity="0.62"/><rect x="206.2" y="357.0" width="1.2" height="1.9" fill="rgb(150,150,150)" opacity="0.49"/><rect x="208.6" y="357.7" width="1.7" height="1.1" fill="rgb(150,150,150)" opacity="0.48"/><rect x="196.0" y="362.2" width="1.6" height="1.0" fill="rgb(150,150,150)" opacity="0.43"/><rect x="198.2" y="362.4" width="0.8" height="1.0" fill="rgb(150,150,150)" opacity="0.50"/><rect x="199.5" y="362.0" width="1.4" height="1.9" fill="rgb(150,150,150)" opacity="0.47"/><rect x="201.8" y="362.5" width="1.2" height="1.0" fill="rgb(150,150,150)" opacity="0.36"/><rect x="204.0" y="362.7" width="1.0" height="1.2" fill="rgb(150,150,150)" opacity="0.62"/><rect x="206.0" y="362.3" width="1.4" height="1.6" fill="rgb(150,150,150)" opacity="0.69"/><rect x="208.0" y="362.2" width="1.6" height="1.2" fill="rgb(150,150,150)" opacity="0.64"/><rect x="196.0" y="367.1" width="1.6" height="1.9" fill="rgb(150,150,150)" opacity="0.42"/><rect x="198.1" y="367.1" width="1.3" height="1.7" fill="rgb(150,150,150)" opacity="0.37"/><rect x="199.8" y="367.0" width="1.0" height="1.6" fill="rgb(150,150,150)" opacity="0.43"/><rect x="201.4" y="367.0" width="1.5" height="2.0" fill="rgb(150,150,150)" opacity="0.39"/><rect x="204.0" y="367.3" width="1.8" height="1.0" fill="rgb(150,150,150)" opacity="0.53"/><rect x="206.5" y="367.2" width="1.2" height="1.4" fill="rgb(150,150,150)" opacity="0.37"/><rect x="208.2" y="367.7" width="1.0" height="0.9" fill="rgb(150,150,150)" opacity="0.59"/><rect x="209.7" y="367.1" width="1.6" height="1.7" fill="rgb(150,150,150)" opacity="0.52"/><rect x="196.0" y="372.0" width="1.7" height="1.5" fill="rgb(150,150,150)" opacity="0.40"/><rect x="198.7" y="372.1" width="1.2" height="1.7" fill="rgb(150,150,150)" opacity="0.63"/><rect x="200.9" y="372.1" width="0.9" height="1.5" fill="rgb(150,150,150)" opacity="0.60"/><rect x="202.8" y="372.1" width="1.6" height="1.1" fill="rgb(150,150,150)" opacity="0.58"/><rect x="205.3" y="372.6" width="0.9" height="1.0" fill="rgb(150,150,150)" opacity="0.39"/><rect x="207.1" y="372.4" width="1.0" height="1.1" fill="rgb(150,150,150)" opacity="0.54"/><rect x="209.2" y="372.1" width="0.8" height="1.7" fill="rgb(150,150,150)" opacity="0.45"/><rect x="196.0" y="377.4" width="1.5" height="1.5" fill="rgb(150,150,150)" opacity="0.42"/><rect x="198.1" y="377.1" width="1.5" height="1.1" fill="rgb(150,150,150)" opacity="0.43"/><rect x="200.6" y="377.3" width="1.6" height="1.7" fill="rgb(150,150,150)" opacity="0.63"/><rect x="202.9" y="377.0" width="1.1" height="1.7" fill="rgb(150,150,150)" opacity="0.56"/><rect x="204.5" y="377.1" width="0.8" height="1.4" fill="rgb(150,150,150)" opacity="0.68"/><rect x="206.4" y="377.1" width="1.3" height="1.0" fill="rgb(150,150,150)" opacity="0.53"/><rect x="208.5" y="377.2" width="1.2" height="1.7" fill="rgb(150,150,150)" opacity="0.62"/><circle cx="235.6" cy="164.0" r="1.1" fill="#9a9a9a"/><circle cx="235.6" cy="173.7" r="1.1" fill="#9a9a9a"/><circle cx="235.6" cy="183.4" r="1.1" fill="#9a9a9a"/><circle cx="235.6" cy="193.1" r="1.1" fill="#9a9a9a"/><circle cx="235.6" cy="202.8" r="1.1" fill="#9a9a9a"/><circle cx="235.6" cy="212.5" r="1.1" fill="#9a9a9a"/><circle cx="235.6" cy="222.2" r="1.1" fill="#9a9a9a"/><circle cx="235.6" cy="231.9" r="1.1" fill="#9a9a9a"/><circle cx="235.6" cy="241.6" r="1.1" fill="#9a9a9a"/><circle cx="235.6" cy="251.3" r="1.1" fill="#9a9a9a"/><circle cx="235.6" cy="261.0" r="1.1" fill="#9a9a9a"/><circle cx="235.6" cy="270.7" r="1.1" fill="#9a9a9a"/><circle cx="235.6" cy="280.4" r="1.1" fill="#9a9a9a"/><circle cx="235.6" cy="290.1" r="1.1" fill="#9a9a9a"/><circle cx="229" cy="337.4" r="2.2" fill="#7a7a7a"/><circle cx="237.2" cy="145.6" r="2.3" fill="#6e6e66"/><circle cx="236.8" cy="145.2" r="1.1" fill="#b8b8b0"/></g></g>
<rect x="237.8" y="159.2" width="11.8" height="138.4" fill="#e2d078"/>
<rect x="237.8" y="301.2" width="11.8" height="20.4" fill="#e2d078"/>
<rect x="246.4" y="159.2" width="3" height="138.4" fill="#e2d084" opacity="0.8"/>
<rect x="246.4" y="301.2" width="3" height="20.4" fill="#e2d084" opacity="0.8"/>
<rect x="249.4" y="159.2" width="0.8" height="162.4" fill="#a0a090" opacity="0.6"/>
<rect x="238" y="160.0" width="8.4" height="0.9" fill="#8a7030" opacity="0.75"/>
<rect x="238" y="162.4" width="8.4" height="0.9" fill="#8a7030" opacity="0.75"/>
<rect x="238" y="164.8" width="8.4" height="0.9" fill="#8a7030" opacity="0.75"/>
<rect x="238" y="167.2" width="8.4" height="0.9" fill="#8a7030" opacity="0.75"/>
<rect x="238" y="169.6" width="8.4" height="0.9" fill="#8a7030" opacity="0.75"/>
<rect x="238" y="172.0" width="8.4" height="0.9" fill="#8a7030" opacity="0.75"/>
<rect x="238" y="174.4" width="8.4" height="0.9" fill="#8a7030" opacity="0.75"/>
<rect x="238" y="176.8" width="8.4" height="0.9" fill="#8a7030" opacity="0.75"/>
<rect x="238" y="179.2" width="8.4" height="0.9" fill="#8a7030" opacity="0.75"/>
<rect x="238" y="181.6" width="8.4" height="0.9" fill="#8a7030" opacity="0.75"/>
<rect x="238" y="184.0" width="8.4" height="0.9" fill="#8a7030" opacity="0.75"/>
<rect x="238" y="186.4" width="8.4" height="0.9" fill="#8a7030" opacity="0.75"/>
<rect x="238" y="188.8" width="8.4" height="0.9" fill="#8a7030" opacity="0.75"/>
<rect x="238" y="191.2" width="8.4" height="0.9" fill="#8a7030" opacity="0.75"/>
<rect x="238" y="193.6" width="8.4" height="0.9" fill="#8a7030" opacity="0.75"/>
<rect x="238" y="196.0" width="8.4" height="0.9" fill="#8a7030" opacity="0.75"/>
<rect x="238" y="198.4" width="8.4" height="0.9" fill="#8a7030" opacity="0.75"/>
<rect x="238" y="200.8" width="8.4" height="0.9" fill="#8a7030" opacity="0.75"/>
<rect x="238" y="203.2" width="8.4" height="0.9" fill="#8a7030" opacity="0.75"/>
<rect x="238" y="205.6" width="8.4" height="0.9" fill="#8a7030" opacity="0.75"/>
<rect x="238" y="208.0" width="8.4" height="0.9" fill="#8a7030" opacity="0.75"/>
<rect x="238" y="210.4" width="8.4" height="0.9" fill="#8a7030" opacity="0.75"/>
<rect x="238" y="212.8" width="8.4" height="0.9" fill="#8a7030" opacity="0.75"/>
<rect x="238" y="215.2" width="8.4" height="0.9" fill="#8a7030" opacity="0.75"/>
<rect x="238" y="217.6" width="8.4" height="0.9" fill="#8a7030" opacity="0.75"/>
<rect x="238" y="220.0" width="8.4" height="0.9" fill="#8a7030" opacity="0.75"/>
<rect x="238" y="222.4" width="8.4" height="0.9" fill="#8a7030" opacity="0.75"/>
<rect x="238" y="224.8" width="8.4" height="0.9" fill="#8a7030" opacity="0.75"/>
<rect x="238" y="227.2" width="8.4" height="0.9" fill="#8a7030" opacity="0.75"/>
<rect x="238" y="229.6" width="8.4" height="0.9" fill="#8a7030" opacity="0.75"/>
<rect x="238" y="232.0" width="8.4" height="0.9" fill="#8a7030" opacity="0.75"/>
<rect x="238" y="234.4" width="8.4" height="0.9" fill="#8a7030" opacity="0.75"/>
<rect x="238" y="236.8" width="8.4" height="0.9" fill="#8a7030" opacity="0.75"/>
<rect x="238" y="239.2" width="8.4" height="0.9" fill="#8a7030" opacity="0.75"/>
<rect x="238" y="241.6" width="8.4" height="0.9" fill="#8a7030" opacity="0.75"/>
<rect x="238" y="244.0" width="8.4" height="0.9" fill="#8a7030" opacity="0.75"/>
<rect x="238" y="246.4" width="8.4" height="0.9" fill="#8a7030" opacity="0.75"/>
<rect x="238" y="248.8" width="8.4" height="0.9" fill="#8a7030" opacity="0.75"/>
<rect x="238" y="251.2" width="8.4" height="0.9" fill="#8a7030" opacity="0.75"/>
<rect x="238" y="253.6" width="8.4" height="0.9" fill="#8a7030" opacity="0.75"/>
<rect x="238" y="256.0" width="8.4" height="0.9" fill="#8a7030" opacity="0.75"/>
<rect x="238" y="258.4" width="8.4" height="0.9" fill="#8a7030" opacity="0.75"/>
<rect x="238" y="260.8" width="8.4" height="0.9" fill="#8a7030" opacity="0.75"/>
<rect x="238" y="263.2" width="8.4" height="0.9" fill="#8a7030" opacity="0.75"/>
<rect x="238" y="265.6" width="8.4" height="0.9" fill="#8a7030" opacity="0.75"/>
<rect x="238" y="268.0" width="8.4" height="0.9" fill="#8a7030" opacity="0.75"/>
<rect x="238" y="270.4" width="8.4" height="0.9" fill="#8a7030" opacity="0.75"/>
<rect x="238" y="272.8" width="8.4" height="0.9" fill="#8a7030" opacity="0.75"/>
<rect x="238" y="275.2" width="8.4" height="0.9" fill="#8a7030" opacity="0.75"/>
<rect x="238" y="277.6" width="8.4" height="0.9" fill="#8a7030" opacity="0.75"/>
<rect x="238" y="280.0" width="8.4" height="0.9" fill="#8a7030" opacity="0.75"/>
<rect x="238" y="282.4" width="8.4" height="0.9" fill="#8a7030" opacity="0.75"/>
<rect x="238" y="284.8" width="8.4" height="0.9" fill="#8a7030" opacity="0.75"/>
<rect x="238" y="287.2" width="8.4" height="0.9" fill="#8a7030" opacity="0.75"/>
<rect x="238" y="289.6" width="8.4" height="0.9" fill="#8a7030" opacity="0.75"/>
<rect x="238" y="292.0" width="8.4" height="0.9" fill="#8a7030" opacity="0.75"/>
<rect x="238" y="294.4" width="8.4" height="0.9" fill="#8a7030" opacity="0.75"/>
<rect x="238" y="296.8" width="8.4" height="0.9" fill="#8a7030" opacity="0.75"/>
<rect x="238" y="301.6" width="8.4" height="0.9" fill="#8a7030" opacity="0.75"/>
<rect x="238" y="304.0" width="8.4" height="0.9" fill="#8a7030" opacity="0.75"/>
<rect x="238" y="306.4" width="8.4" height="0.9" fill="#8a7030" opacity="0.75"/>
<rect x="238" y="308.8" width="8.4" height="0.9" fill="#8a7030" opacity="0.75"/>
<rect x="238" y="311.2" width="8.4" height="0.9" fill="#8a7030" opacity="0.75"/>
<rect x="238" y="313.6" width="8.4" height="0.9" fill="#8a7030" opacity="0.75"/>
<rect x="238" y="316.0" width="8.4" height="0.9" fill="#8a7030" opacity="0.75"/>
<rect x="238" y="318.4" width="8.4" height="0.9" fill="#8a7030" opacity="0.75"/>
<rect x="238" y="320.8" width="8.4" height="0.9" fill="#8a7030" opacity="0.75"/>
<rect x="72" y="170.8" width="60" height="8.4" fill="url(#cfade)"/>
<path d="M129,167.7 L177,163.0 V187.0 L129,182.3 Z" fill="#eaeaea"/>
<rect x="176.4" y="162.5" width="16.8" height="25" fill="#ececec"/>
<rect x="193" y="162.4" width="19.7" height="25.4" fill="#e3e3e3"/>
<rect x="193" y="162.4" width="19.7" height="0.9" fill="#b8b8b8"/>
<rect x="193" y="186.9" width="19.7" height="0.9" fill="#b8b8b8"/>
<rect x="205" y="162.5" width="0.8" height="25" fill="#c4c4c4"/>
<circle cx="211" cy="174.5" r="0.8" fill="#b0b0b0"/>
<rect x="196" y="167.9" width="3" height="3.6" fill="#9a9a9a"/>
<rect x="196" y="178.7" width="3" height="3.6" fill="#9a9a9a"/>
<rect x="212.7" y="161.6" width="12.8" height="26.6" fill="#606060"/>
<rect x="222" y="161.6" width="3.5" height="26.6" fill="#767676" opacity="0.6"/>
<rect x="72" y="206.3" width="60" height="8.4" fill="url(#cfade)"/>
<path d="M129,203.2 L177,198.5 V222.5 L129,217.8 Z" fill="#eaeaea"/>
<rect x="176.4" y="198.0" width="16.8" height="25" fill="#ececec"/>
<rect x="193" y="197.9" width="19.7" height="25.4" fill="#e3e3e3"/>
<rect x="193" y="197.9" width="19.7" height="0.9" fill="#b8b8b8"/>
<rect x="193" y="222.4" width="19.7" height="0.9" fill="#b8b8b8"/>
<rect x="205" y="198.0" width="0.8" height="25" fill="#c4c4c4"/>
<circle cx="211" cy="210.0" r="0.8" fill="#b0b0b0"/>
<rect x="196" y="203.4" width="3" height="3.6" fill="#9a9a9a"/>
<rect x="196" y="214.2" width="3" height="3.6" fill="#9a9a9a"/>
<rect x="212.7" y="197.1" width="12.8" height="26.6" fill="#606060"/>
<rect x="222" y="197.1" width="3.5" height="26.6" fill="#767676" opacity="0.6"/>
<rect x="72" y="241.6" width="60" height="8.4" fill="url(#cfade)"/>
<path d="M129,238.5 L177,233.8 V257.8 L129,253.1 Z" fill="#eaeaea"/>
<rect x="176.4" y="233.3" width="16.8" height="25" fill="#ececec"/>
<rect x="193" y="233.2" width="19.7" height="25.4" fill="#e3e3e3"/>
<rect x="193" y="233.2" width="19.7" height="0.9" fill="#b8b8b8"/>
<rect x="193" y="257.7" width="19.7" height="0.9" fill="#b8b8b8"/>
<rect x="205" y="233.3" width="0.8" height="25" fill="#c4c4c4"/>
<circle cx="211" cy="245.3" r="0.8" fill="#b0b0b0"/>
<rect x="196" y="238.7" width="3" height="3.6" fill="#9a9a9a"/>
<rect x="196" y="249.5" width="3" height="3.6" fill="#9a9a9a"/>
<rect x="212.7" y="232.4" width="12.8" height="26.6" fill="#606060"/>
<rect x="222" y="232.4" width="3.5" height="26.6" fill="#767676" opacity="0.6"/>
<rect x="72" y="275.9" width="60" height="8.4" fill="url(#cfade)"/>
<path d="M129,272.8 L177,268.1 V292.1 L129,287.4 Z" fill="#eaeaea"/>
<rect x="176.4" y="267.6" width="16.8" height="25" fill="#ececec"/>
<rect x="193" y="267.5" width="19.7" height="25.4" fill="#e3e3e3"/>
<rect x="193" y="267.5" width="19.7" height="0.9" fill="#b8b8b8"/>
<rect x="193" y="292.0" width="19.7" height="0.9" fill="#b8b8b8"/>
<rect x="205" y="267.6" width="0.8" height="25" fill="#c4c4c4"/>
<circle cx="211" cy="279.6" r="0.8" fill="#b0b0b0"/>
<rect x="196" y="273.0" width="3" height="3.6" fill="#9a9a9a"/>
<rect x="196" y="283.8" width="3" height="3.6" fill="#9a9a9a"/>
<rect x="212.7" y="266.7" width="12.8" height="26.6" fill="#606060"/>
<rect x="222" y="266.7" width="3.5" height="26.6" fill="#767676" opacity="0.6"/>
<circle cx="201.7" cy="396.3" r="6.8" fill="#c8b068"/>
<circle cx="201.7" cy="396.3" r="5.5" fill="#5a5038"/>
<circle cx="201.7" cy="396.3" r="4.6" fill="#cac2a2"/>
<path d="M198.7,395.3 L204.7,397.3 M200.7,393.3 L202.7,399.3" stroke="#8a8678" stroke-width="1.2"/>
<circle cx="231.25" cy="396.75" r="6.8" fill="#c8b068"/>
<circle cx="231.25" cy="396.75" r="5.5" fill="#5a5038"/>
<circle cx="231.25" cy="396.75" r="4.6" fill="#cac2a2"/>
<path d="M228.25,395.75 L234.25,397.75 M230.25,393.75 L232.25,399.75" stroke="#8a8678" stroke-width="1.2"/>
<circle cx="213.7" cy="309.5" r="5" fill="#dcc428"/>
<circle cx="213.2" cy="309" r="3.2" fill="#e8d448"/>
<path d="M211.5,307.5 l2,2 M214,307 l1,3" stroke="#b8a020" stroke-width="0.7"/>
<text x="321.5" y="77.5" font-size="23.4" fill="#262626">Motherboard and BIOS with</text>
<text x="321.5" y="103.8" font-size="23.4" fill="#262626">PCIe <tspan font-weight="bold">Bifurcation</tspan> support</text>
</svg>

</body></html>
